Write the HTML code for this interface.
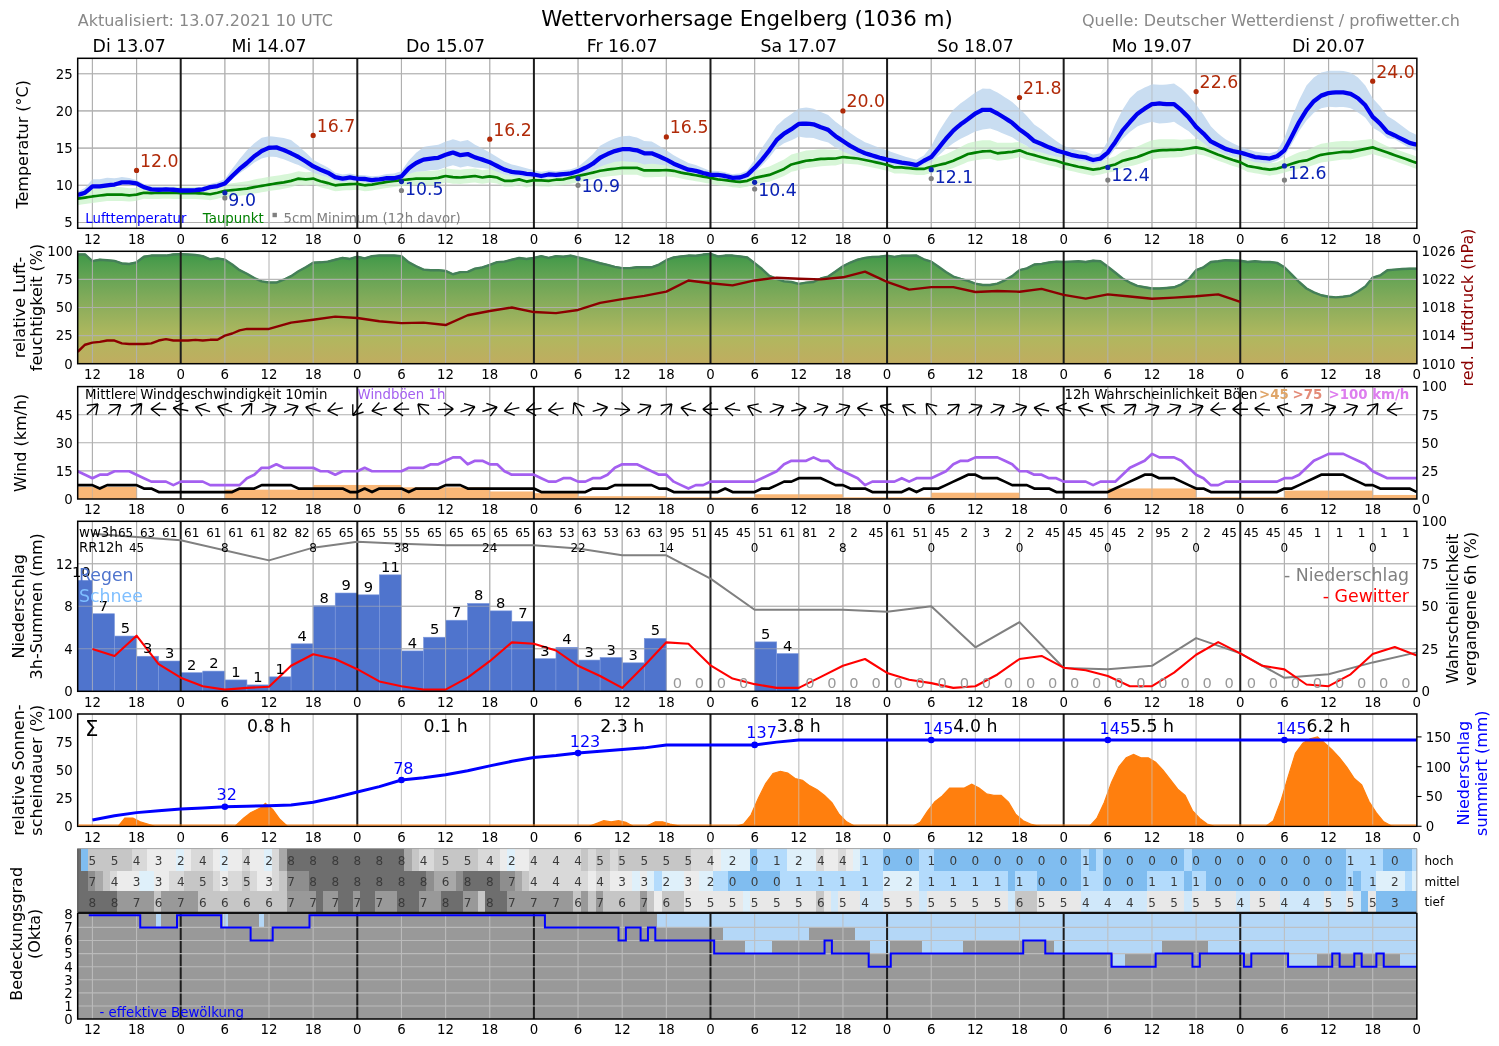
<!DOCTYPE html>
<html lang="de"><head><meta charset="utf-8"><title>Wettervorhersage Engelberg (1036 m)</title>
<style>html,body{margin:0;padding:0;background:#fff}svg{display:block}</style></head>
<body>
<svg width="1499" height="1046" viewBox="0 0 1499 1046" font-family="'DejaVu Sans','Liberation Sans',sans-serif">
<defs>
<clipPath id="c1"><rect x="77.7" y="58.3" width="1339.16" height="170"/></clipPath>
<clipPath id="c2"><rect x="77.7" y="251.3" width="1339.16" height="112.4"/></clipPath>
<clipPath id="c3"><rect x="77.7" y="386.6" width="1339.16" height="112.4"/></clipPath>
<clipPath id="c4"><rect x="77.7" y="521.3" width="1339.16" height="170"/></clipPath>
<clipPath id="c5"><rect x="77.7" y="714" width="1339.16" height="112.3"/></clipPath>
<clipPath id="c6"><rect x="77.7" y="848.6" width="1339.16" height="170.5"/></clipPath>
<linearGradient id="rhg" x1="0" y1="0" x2="0" y2="1"><stop offset="0" stop-color="#3e9848"/><stop offset="0.25" stop-color="#6aa556"/><stop offset="0.5" stop-color="#8fae5c"/><stop offset="0.75" stop-color="#b0b85e"/><stop offset="1" stop-color="#c0ac60"/></linearGradient>
</defs>
<rect width="1499" height="1046" fill="#fff"/>
<text x="77.7" y="26" font-size="16" fill="#888">Aktualisiert: 13.07.2021 10 UTC</text>
<text x="747" y="25.7" font-size="21.3" fill="#000" text-anchor="middle">Wettervorhersage Engelberg (1036 m)</text>
<text x="1460" y="26" font-size="16" fill="#888" text-anchor="end">Quelle: Deutscher Wetterdienst / profiwetter.ch</text>
<text x="129.21" y="51.7" font-size="17.33" fill="#000" text-anchor="middle">Di 13.07</text>
<text x="269.01" y="51.7" font-size="17.33" fill="#000" text-anchor="middle">Mi 14.07</text>
<text x="445.6" y="51.7" font-size="17.33" fill="#000" text-anchor="middle">Do 15.07</text>
<text x="622.19" y="51.7" font-size="17.33" fill="#000" text-anchor="middle">Fr 16.07</text>
<text x="798.78" y="51.7" font-size="17.33" fill="#000" text-anchor="middle">Sa 17.07</text>
<text x="975.38" y="51.7" font-size="17.33" fill="#000" text-anchor="middle">So 18.07</text>
<text x="1151.97" y="51.7" font-size="17.33" fill="#000" text-anchor="middle">Mo 19.07</text>
<text x="1328.56" y="51.7" font-size="17.33" fill="#000" text-anchor="middle">Di 20.07</text>
<path d="M92.42 58.3V228.3M136.56 58.3V228.3M224.86 58.3V228.3M269.01 58.3V228.3M313.16 58.3V228.3M401.45 58.3V228.3M445.6 58.3V228.3M489.75 58.3V228.3M578.04 58.3V228.3M622.19 58.3V228.3M666.34 58.3V228.3M754.64 58.3V228.3M798.78 58.3V228.3M842.93 58.3V228.3M931.23 58.3V228.3M975.38 58.3V228.3M1019.52 58.3V228.3M1107.82 58.3V228.3M1151.97 58.3V228.3M1196.12 58.3V228.3M1284.41 58.3V228.3M1328.56 58.3V228.3M1372.71 58.3V228.3M77.7 222.5H1416.86M77.7 185.3H1416.86M77.7 148.1H1416.86M77.7 110.9H1416.86M77.7 73.7H1416.86" stroke="#b0b0b0" stroke-width="1.1" fill="none" opacity="1"/>
<g clip-path="url(#c1)">
<path d="M77.7 191.11 L81.38 190.48 L85.06 189.87 L88.74 189.27 L92.42 188.69 L96.09 188.22 L99.77 187.76 L103.45 187.32 L107.13 186.9 L110.81 186.95 L114.49 187.02 L118.17 187.1 L121.85 187.2 L125.53 187.68 L129.21 188.17 L132.88 187.92 L136.56 187.69 L140.24 186.9 L143.92 186.11 L147.6 186.45 L151.28 186.79 L154.96 186.7 L158.64 186.6 L162.32 186.51 L166 186.42 L169.68 186.51 L173.35 186.6 L177.03 186.7 L180.71 186.79 L184.39 186.79 L188.07 186.79 L191.75 186.79 L195.43 186.79 L199.11 186.97 L202.79 187.16 L206.46 187.53 L210.14 187.9 L213.82 187.16 L217.5 186.42 L221.18 185.33 L224.86 184.25 L228.54 183.74 L232.22 183.22 L235.9 182.71 L239.58 182.22 L243.25 181.73 L246.93 181.25 L250.61 180.41 L254.29 179.58 L257.97 178.86 L261.65 178.15 L265.33 177.46 L269.01 176.79 L272.69 176.22 L276.37 175.67 L280.05 175.14 L283.72 174.62 L287.4 173.93 L291.08 173.26 L294.76 172.22 L298.44 171.2 L302.12 171.68 L305.8 172.17 L309.48 171.93 L313.16 171.69 L316.83 173.13 L320.51 174.58 L324.19 175.66 L327.87 176.74 L331.55 177.86 L335.23 178.98 L338.91 178.6 L342.59 178.23 L346.27 178.05 L349.95 177.86 L353.62 177.67 L357.3 177.49 L360.98 178.23 L364.66 178.98 L368.34 178.6 L372.02 178.23 L375.7 177.58 L379.38 176.93 L383.06 176.28 L386.74 175.63 L390.41 175.16 L394.09 174.7 L397.77 174.08 L401.45 173.47 L405.13 172.95 L408.81 172.43 L412.49 171.93 L416.17 171.43 L419.85 171.31 L423.53 171.2 L427.2 171.11 L430.88 171.02 L434.56 170.58 L438.24 170.16 L441.92 169.19 L445.6 168.23 L449.28 168.76 L452.96 169.3 L456.64 169.49 L460.32 169.69 L463.99 169.36 L467.67 169.04 L471.35 168.74 L475.03 168.45 L478.71 169.3 L482.39 170.17 L486.07 169.75 L489.75 169.34 L493.43 170.06 L497.11 170.79 L500.78 172.65 L504.46 174.51 L508.14 174.51 L511.82 174.51 L515.5 173.77 L519.18 173.02 L522.86 174.14 L526.54 175.26 L530.22 174.51 L533.9 173.77 L537.58 173.95 L541.25 174.14 L544.93 174.33 L548.61 174.51 L552.29 173.95 L555.97 173.4 L559.65 173.21 L563.33 173.02 L567.01 172.19 L570.69 171.35 L574.37 170.27 L578.04 169.19 L581.72 168.11 L585.4 167.04 L589.08 165.97 L592.76 164.91 L596.44 163.76 L600.12 162.64 L603.8 161.9 L607.48 161.17 L611.15 160.57 L614.83 159.98 L618.51 159.43 L622.19 158.89 L625.87 158.86 L629.55 158.85 L633.23 158.87 L636.91 158.92 L640.59 160.3 L644.27 161.71 L647.95 161.85 L651.62 162.01 L655.3 162.2 L658.98 162.42 L662.66 162.47 L666.34 162.54 L670.02 163.19 L673.7 163.85 L677.38 165.09 L681.06 166.33 L684.74 166.98 L688.41 167.63 L692.09 168.28 L695.77 168.93 L699.45 169.58 L703.13 170.23 L706.81 170.88 L710.49 171.54 L714.17 172.28 L717.85 173.02 L721.52 173.4 L725.2 173.77 L728.88 174.33 L732.56 174.88 L736.24 175.26 L739.92 175.63 L743.6 175.07 L747.28 174.51 L750.96 172.66 L754.64 170.81 L758.32 169.71 L761.99 168.61 L765.67 167.53 L769.35 166.46 L773.03 164.66 L776.71 162.89 L780.39 161.14 L784.07 159.43 L787.75 157 L791.43 154.6 L795.11 153.55 L798.78 152.53 L802.46 151.56 L806.14 150.62 L809.82 150.29 L813.5 150 L817.18 149.57 L820.86 149.17 L824.54 149.28 L828.22 149.43 L831.89 149.62 L835.57 149.83 L839.25 149.43 L842.93 149.05 L846.61 149.81 L850.29 150.59 L853.97 151.39 L857.65 152.19 L861.33 152.94 L865.01 153.68 L868.69 154.42 L872.36 155.17 L876.04 156 L879.72 156.84 L883.4 157.68 L887.08 158.52 L890.76 159.82 L894.44 161.12 L898.12 161.12 L901.8 161.12 L905.48 161.49 L909.15 161.86 L912.83 162.24 L916.51 162.61 L920.19 162.61 L923.87 162.61 L927.55 161.01 L931.23 159.41 L934.91 158.1 L938.59 156.79 L942.26 155.51 L945.94 154.24 L949.62 152.54 L953.3 150.87 L956.98 148.86 L960.66 146.89 L964.34 144.98 L968.02 143.13 L971.7 142.25 L975.38 141.43 L979.05 140.85 L982.73 140.31 L986.41 140.21 L990.09 140.15 L993.77 141.45 L997.45 142.8 L1001.13 142.7 L1004.81 142.65 L1008.49 142.63 L1012.17 142.65 L1015.85 142.33 L1019.52 142.04 L1023.2 144 L1026.88 145.98 L1030.56 147.41 L1034.24 148.84 L1037.92 149.87 L1041.6 150.89 L1045.28 151.91 L1048.96 152.94 L1052.63 153.68 L1056.31 154.42 L1059.99 155.73 L1063.67 157.03 L1067.35 157.87 L1071.03 158.7 L1074.71 159.54 L1078.39 160.38 L1082.07 161.12 L1085.75 161.86 L1089.42 162.61 L1093.1 163.35 L1096.78 162.79 L1100.46 162.24 L1104.14 160.61 L1107.82 159 L1111.5 157.58 L1115.18 156.18 L1118.86 153.87 L1122.54 151.58 L1126.21 150.26 L1129.89 148.97 L1133.57 147.72 L1137.25 146.52 L1140.93 144.89 L1144.61 143.31 L1148.29 141.79 L1151.97 140.31 L1155.65 139.73 L1159.33 139.2 L1163 139.15 L1166.68 139.16 L1170.36 139.22 L1174.04 139.32 L1177.72 139.48 L1181.4 139.67 L1185.08 139.47 L1188.76 139.31 L1192.44 139.17 L1196.12 139.07 L1199.8 140.28 L1203.47 141.51 L1207.15 143.5 L1210.83 145.5 L1214.51 146.98 L1218.19 148.47 L1221.87 149.77 L1225.55 151.08 L1229.23 152.38 L1232.91 153.68 L1236.59 154.8 L1240.26 155.91 L1243.94 157.77 L1247.62 159.63 L1251.3 160.28 L1254.98 160.93 L1258.66 161.58 L1262.34 162.24 L1266.02 162.79 L1269.7 163.35 L1273.38 162.79 L1277.05 162.24 L1280.73 160.61 L1284.41 159 L1288.09 157.21 L1291.77 155.43 L1295.45 153.87 L1299.13 152.33 L1302.81 151.37 L1306.49 150.46 L1310.16 148.65 L1313.84 146.89 L1317.52 145.36 L1321.2 143.87 L1324.88 143.18 L1328.56 142.55 L1332.24 142.06 L1335.92 141.62 L1339.6 141.23 L1343.28 140.9 L1346.95 141.08 L1350.63 141.31 L1354.31 140.84 L1357.99 140.41 L1361.67 140.03 L1365.35 139.68 L1369.03 139.36 L1372.71 139.07 L1376.39 140.84 L1380.07 142.63 L1383.74 144.43 L1387.42 146.24 L1391.1 147.54 L1394.78 148.84 L1398.46 150.15 L1402.14 151.45 L1405.82 152.75 L1409.5 154.05 L1413.18 155.35 L1416.86 156.66 L1416.86 168.93 L1413.18 167.63 L1409.5 166.33 L1405.82 165.03 L1402.14 163.72 L1398.46 162.42 L1394.78 161.12 L1391.1 159.82 L1387.42 158.52 L1383.74 157.41 L1380.07 156.3 L1376.39 155.18 L1372.71 154.06 L1369.03 154.98 L1365.35 155.89 L1361.67 156.78 L1357.99 157.67 L1354.31 158.53 L1350.63 159.38 L1346.95 159.47 L1343.28 159.54 L1339.6 160.06 L1335.92 160.55 L1332.24 161.03 L1328.56 161.48 L1324.88 162.01 L1321.2 162.52 L1317.52 163.75 L1313.84 164.96 L1310.16 166.34 L1306.49 167.71 L1302.81 168.13 L1299.13 168.54 L1295.45 169.49 L1291.77 170.43 L1288.09 171.55 L1284.41 172.67 L1280.73 173.59 L1277.05 174.51 L1273.38 175.07 L1269.7 175.63 L1266.02 175.07 L1262.34 174.51 L1258.66 173.86 L1254.98 173.21 L1251.3 172.56 L1247.62 171.91 L1243.94 170.05 L1240.26 168.19 L1236.59 167.07 L1232.91 165.96 L1229.23 164.65 L1225.55 163.35 L1221.87 162.05 L1218.19 160.75 L1214.51 159.26 L1210.83 157.77 L1207.15 156.48 L1203.47 155.18 L1199.8 154.63 L1196.12 154.06 L1192.44 154.8 L1188.76 155.52 L1185.08 156.23 L1181.4 156.92 L1177.72 157.17 L1174.04 157.4 L1170.36 157.61 L1166.68 157.8 L1163 157.98 L1159.33 158.13 L1155.65 158.7 L1151.97 159.25 L1148.29 160.61 L1144.61 161.96 L1140.93 163.28 L1137.25 164.59 L1133.57 165.41 L1129.89 166.22 L1126.21 167.01 L1122.54 167.79 L1118.86 169.49 L1115.18 171.18 L1111.5 171.92 L1107.82 172.67 L1104.14 173.59 L1100.46 174.51 L1096.78 175.07 L1093.1 175.63 L1089.42 174.88 L1085.75 174.14 L1082.07 173.4 L1078.39 172.65 L1074.71 171.81 L1071.03 170.98 L1067.35 170.14 L1063.67 169.3 L1059.99 168 L1056.31 166.7 L1052.63 165.96 L1048.96 165.21 L1045.28 164.19 L1041.6 163.17 L1037.92 162.14 L1034.24 161.12 L1030.56 160.38 L1026.88 159.65 L1023.2 158.35 L1019.52 157.04 L1015.85 157.96 L1012.17 158.87 L1008.49 159.39 L1004.81 159.9 L1001.13 160.39 L997.45 160.87 L993.77 159.84 L990.09 158.8 L986.41 159.03 L982.73 159.25 L979.05 159.82 L975.38 160.37 L971.7 161.08 L968.02 161.77 L964.34 163.38 L960.66 164.96 L956.98 166.52 L953.3 168.07 L949.62 169.23 L945.94 170.38 L942.26 171.05 L938.59 171.71 L934.91 172.37 L931.23 173.02 L927.55 173.95 L923.87 174.88 L920.19 174.88 L916.51 174.88 L912.83 174.51 L909.15 174.14 L905.48 173.77 L901.8 173.4 L898.12 173.4 L894.44 173.4 L890.76 172.09 L887.08 170.79 L883.4 169.95 L879.72 169.12 L876.04 168.28 L872.36 167.44 L868.69 166.7 L865.01 165.96 L861.33 165.21 L857.65 164.47 L853.97 164.26 L850.29 164.05 L846.61 163.84 L842.93 163.62 L839.25 164.5 L835.57 165.38 L831.89 165.59 L828.22 165.79 L824.54 165.97 L820.86 166.14 L817.18 166.77 L813.5 167.37 L809.82 167.77 L806.14 168.16 L802.46 169.09 L798.78 170 L795.11 170.9 L791.43 171.78 L787.75 173.95 L784.07 176.11 L780.39 177.51 L776.71 178.9 L773.03 180.28 L769.35 181.65 L765.67 182.26 L761.99 182.88 L758.32 183.48 L754.64 184.09 L750.96 185.44 L747.28 186.79 L743.6 187.35 L739.92 187.9 L736.24 187.53 L732.56 187.16 L728.88 186.6 L725.2 186.04 L721.52 185.67 L717.85 185.3 L714.17 184.56 L710.49 183.81 L706.81 183.16 L703.13 182.51 L699.45 181.86 L695.77 181.21 L692.09 180.56 L688.41 179.91 L684.74 179.25 L681.06 178.6 L677.38 177.79 L673.7 176.98 L670.02 176.72 L666.34 176.45 L662.66 176.74 L658.98 177.02 L655.3 177.1 L651.62 177.17 L647.95 177.24 L644.27 177.29 L640.59 176.03 L636.91 174.76 L633.23 174.78 L629.55 174.79 L625.87 174.78 L622.19 174.77 L618.51 175.21 L614.83 175.64 L611.15 176.06 L607.48 176.47 L603.8 176.96 L600.12 177.45 L596.44 178.3 L592.76 179.15 L589.08 179.9 L585.4 180.65 L581.72 181.39 L578.04 182.14 L574.37 182.88 L570.69 183.63 L567.01 184.46 L563.33 185.3 L559.65 185.49 L555.97 185.67 L552.29 186.23 L548.61 186.79 L544.93 186.6 L541.25 186.42 L537.58 186.23 L533.9 186.04 L530.22 186.79 L526.54 187.53 L522.86 186.42 L519.18 185.3 L515.5 186.04 L511.82 186.79 L508.14 186.79 L504.46 186.79 L500.78 185.19 L497.11 183.58 L493.43 183.09 L489.75 182.6 L486.07 183.21 L482.39 183.82 L478.71 183.13 L475.03 182.42 L471.35 182.83 L467.67 183.23 L463.99 183.62 L460.32 184.01 L456.64 183.83 L452.96 183.64 L449.28 183.08 L445.6 182.51 L441.92 183.43 L438.24 184.34 L434.56 184.69 L430.88 185.04 L427.2 185.01 L423.53 184.97 L419.85 184.93 L416.17 184.88 L412.49 185.21 L408.81 185.53 L405.13 185.84 L401.45 186.16 L397.77 186.57 L394.09 186.97 L390.41 187.44 L386.74 187.9 L383.06 188.56 L379.38 189.21 L375.7 189.86 L372.02 190.51 L368.34 190.88 L364.66 191.25 L360.98 190.51 L357.3 189.76 L353.62 189.95 L349.95 190.14 L346.27 190.32 L342.59 190.51 L338.91 190.88 L335.23 191.25 L331.55 190.14 L327.87 189.02 L324.19 188.15 L320.51 187.28 L316.83 186.03 L313.16 184.78 L309.48 185.21 L305.8 185.63 L302.12 185.3 L298.44 184.97 L294.76 186.12 L291.08 187.27 L287.4 188.04 L283.72 188.81 L280.05 189.38 L276.37 189.95 L272.69 190.51 L269.01 191.06 L265.33 191.7 L261.65 192.34 L257.97 192.97 L254.29 193.6 L250.61 194.31 L246.93 195.01 L243.25 195.35 L239.58 195.67 L235.9 196 L232.22 196.31 L228.54 196.63 L224.86 196.95 L221.18 197.82 L217.5 198.69 L213.82 199.44 L210.14 200.18 L206.46 199.81 L202.79 199.44 L199.11 199.25 L195.43 199.06 L191.75 199.06 L188.07 199.06 L184.39 199.06 L180.71 199.06 L177.03 198.97 L173.35 198.88 L169.68 198.78 L166 198.69 L162.32 198.78 L158.64 198.88 L154.96 198.97 L151.28 199.06 L147.6 198.94 L143.92 198.81 L140.24 199.79 L136.56 200.78 L132.88 201.2 L129.21 201.62 L125.53 201.3 L121.85 200.97 L118.17 201 L114.49 201.04 L110.81 201.06 L107.13 201.08 L103.45 201.56 L99.77 202.04 L96.09 202.5 L92.42 202.97 L88.74 203.52 L85.06 204.06 L81.38 204.6 L77.7 205.13 Z" fill="#d7f6d7"/>
<path d="M77.7 192 L81.38 189.86 L85.06 187.72 L88.74 183.53 L92.42 179.35 L96.09 179.25 L99.77 179.16 L103.45 178.51 L107.13 177.86 L110.81 178.05 L114.49 178.23 L118.17 177.67 L121.85 177.12 L125.53 177.58 L129.21 178.05 L132.88 179.07 L136.56 180.09 L140.24 182.08 L143.92 184.06 L147.6 185.3 L151.28 186.54 L154.96 186.85 L158.64 187.16 L162.32 187.04 L166 186.91 L169.68 187.16 L173.35 187.41 L177.03 187.84 L180.71 188.28 L184.39 188.21 L188.07 188.15 L191.75 187.9 L195.43 187.66 L199.11 187.22 L202.79 186.79 L206.46 185.36 L210.14 183.94 L213.82 183.07 L217.5 182.2 L221.18 180.59 L224.86 178.98 L228.54 173.89 L232.22 168.81 L235.9 163.91 L239.58 159.01 L243.25 154.67 L246.93 150.33 L250.61 146.8 L254.29 143.26 L257.97 140.47 L261.65 137.68 L265.33 136.94 L269.01 136.2 L272.69 136.57 L276.37 136.94 L280.05 137.5 L283.72 138.06 L287.4 138.99 L291.08 139.92 L294.76 142.89 L298.44 145.87 L302.12 149.22 L305.8 152.56 L309.48 156.1 L313.16 159.63 L316.83 161.68 L320.51 163.72 L324.19 165.58 L327.87 167.44 L331.55 170.05 L335.23 172.65 L338.91 173.52 L342.59 174.39 L346.27 173.95 L349.95 173.52 L353.62 174.2 L357.3 174.88 L360.98 175.07 L364.66 175.26 L368.34 175.81 L372.02 176.37 L375.7 176 L379.38 175.63 L383.06 174.82 L386.74 174.02 L390.41 173.77 L394.09 173.52 L397.77 172.34 L401.45 171.16 L405.13 165.83 L408.81 160.5 L412.49 156.66 L416.17 152.81 L419.85 149.9 L423.53 146.98 L427.2 146.33 L430.88 145.68 L434.56 145.22 L438.24 144.75 L441.92 143.17 L445.6 141.59 L449.28 140.38 L452.96 139.17 L456.64 140.29 L460.32 141.4 L463.99 140.66 L467.67 139.92 L471.35 142.33 L475.03 144.75 L478.71 146.61 L482.39 148.47 L486.07 150.52 L489.75 152.56 L493.43 154.8 L497.11 157.03 L500.78 159.26 L504.46 161.49 L508.14 162.98 L511.82 164.47 L515.5 165.34 L519.18 166.2 L522.86 167.26 L526.54 168.31 L530.22 169.18 L533.9 170.05 L537.58 170.92 L541.25 171.78 L544.93 171.16 L548.61 170.54 L552.29 170.85 L555.97 171.16 L559.65 170.67 L563.33 170.17 L567.01 169.68 L570.69 169.18 L574.37 167.94 L578.04 166.7 L581.72 163.79 L585.4 160.87 L589.08 157.59 L592.76 154.3 L596.44 150.08 L600.12 145.87 L603.8 143.82 L607.48 141.78 L611.15 140.1 L614.83 138.43 L618.51 137.31 L622.19 136.2 L625.87 136.01 L629.55 135.82 L633.23 136.63 L636.91 137.44 L640.59 139.17 L644.27 140.91 L647.95 141.16 L651.62 141.4 L655.3 143.54 L658.98 145.68 L662.66 148.01 L666.34 150.33 L670.02 152.81 L673.7 155.29 L677.38 157.21 L681.06 159.14 L684.74 161.06 L688.41 162.98 L692.09 163.97 L695.77 164.96 L699.45 166.51 L703.13 168.06 L706.81 169.43 L710.49 170.79 L714.17 170.85 L717.85 170.92 L721.52 171.54 L725.2 172.16 L728.88 173.15 L732.56 174.14 L736.24 173.77 L739.92 173.4 L743.6 171.91 L747.28 170.42 L750.96 165.03 L754.64 159.63 L758.32 153.68 L761.99 147.73 L765.67 142.52 L769.35 137.31 L773.03 131.55 L776.71 125.78 L780.39 122.39 L784.07 118.99 L787.75 116.53 L791.43 114.06 L795.11 111.23 L798.78 108.39 L802.46 107.97 L806.14 107.55 L809.82 108.11 L813.5 108.67 L817.18 110.34 L820.86 112.02 L824.54 113.5 L828.22 114.99 L831.89 118.43 L835.57 121.87 L839.25 124.57 L842.93 127.27 L846.61 130.12 L850.29 132.97 L853.97 135.45 L857.65 137.93 L861.33 140.04 L865.01 142.15 L868.69 143.57 L872.36 145 L876.04 146.43 L879.72 147.85 L883.4 149.09 L887.08 150.33 L890.76 151.63 L894.44 152.94 L898.12 154.24 L901.8 155.54 L905.48 156.66 L909.15 157.77 L912.83 158.7 L916.51 159.63 L920.19 157.59 L923.87 155.54 L927.55 150.89 L931.23 146.24 L934.91 138.99 L938.59 131.73 L942.26 125.97 L945.94 120.2 L949.62 114.99 L953.3 109.78 L956.98 106.58 L960.66 103.37 L964.34 100.72 L968.02 98.07 L971.7 95.23 L975.38 92.39 L979.05 90.49 L982.73 88.58 L986.41 88.64 L990.09 88.7 L993.77 90.63 L997.45 92.55 L1001.13 94.84 L1004.81 97.14 L1008.49 99.55 L1012.17 101.97 L1015.85 105.32 L1019.52 108.67 L1023.2 112.33 L1026.88 115.98 L1030.56 120.2 L1034.24 124.42 L1037.92 126.96 L1041.6 129.5 L1045.28 132.48 L1048.96 135.45 L1052.63 138.24 L1056.31 141.03 L1059.99 143.45 L1063.67 145.87 L1067.35 147.17 L1071.03 148.47 L1074.71 149.4 L1078.39 150.33 L1082.07 151.08 L1085.75 151.82 L1089.42 153.22 L1093.1 154.61 L1096.78 153.96 L1100.46 153.31 L1104.14 147.17 L1107.82 141.03 L1111.5 132.66 L1115.18 124.29 L1118.86 117.04 L1122.54 109.78 L1126.21 104.02 L1129.89 98.25 L1133.57 94.81 L1137.25 91.37 L1140.93 89.42 L1144.61 87.46 L1148.29 85.88 L1151.97 84.3 L1155.65 84.58 L1159.33 84.86 L1163 84.74 L1166.68 84.61 L1170.36 84.12 L1174.04 83.62 L1177.72 86.1 L1181.4 88.58 L1185.08 92.11 L1188.76 95.65 L1192.44 100.11 L1196.12 104.58 L1199.8 109.72 L1203.47 114.87 L1207.15 120.57 L1210.83 126.28 L1214.51 129.93 L1218.19 133.59 L1221.87 136.38 L1225.55 139.17 L1229.23 141.22 L1232.91 143.26 L1236.59 144.94 L1240.26 146.61 L1243.94 147.85 L1247.62 149.09 L1251.3 150.33 L1254.98 151.57 L1258.66 152.07 L1262.34 152.56 L1266.02 152.94 L1269.7 153.31 L1273.38 152.19 L1277.05 151.08 L1280.73 144.57 L1284.41 138.06 L1288.09 127.64 L1291.77 117.22 L1295.45 108.67 L1299.13 100.11 L1302.81 92.86 L1306.49 85.6 L1310.16 81.51 L1313.84 77.42 L1317.52 75 L1321.2 72.58 L1324.88 71.65 L1328.56 70.72 L1332.24 70.72 L1335.92 70.72 L1339.6 70.85 L1343.28 70.97 L1346.95 71.84 L1350.63 72.71 L1354.31 75.06 L1357.99 77.42 L1361.67 81.51 L1365.35 85.6 L1369.03 91.93 L1372.71 98.25 L1376.39 102.22 L1380.07 106.19 L1383.74 111.09 L1387.42 115.98 L1391.1 118.28 L1394.78 120.57 L1398.46 123.3 L1402.14 126.03 L1405.82 128.76 L1409.5 131.48 L1413.18 133.28 L1416.86 135.08 L1416.86 151.08 L1413.18 149.71 L1409.5 148.35 L1405.82 146.05 L1402.14 143.76 L1398.46 141.47 L1394.78 139.17 L1391.1 138.68 L1387.42 138.18 L1383.74 135.08 L1380.07 131.98 L1376.39 129.81 L1372.71 127.64 L1369.03 122.71 L1365.35 117.78 L1361.67 115.08 L1357.99 112.39 L1354.31 110.28 L1350.63 108.17 L1346.95 107.55 L1343.28 106.93 L1339.6 107.06 L1335.92 107.18 L1332.24 106.99 L1328.56 106.81 L1324.88 107.55 L1321.2 108.3 L1317.52 110.53 L1313.84 112.76 L1310.16 116.67 L1306.49 120.57 L1302.81 125.78 L1299.13 130.99 L1295.45 137.5 L1291.77 144.01 L1288.09 150.15 L1284.41 156.28 L1280.73 158.52 L1277.05 160.75 L1273.38 162.05 L1269.7 163.35 L1266.02 163.17 L1262.34 162.98 L1258.66 162.61 L1254.98 162.24 L1251.3 161.12 L1247.62 160 L1243.94 158.89 L1240.26 157.77 L1236.59 157.15 L1232.91 156.53 L1229.23 155.54 L1225.55 154.55 L1221.87 152.81 L1218.19 151.08 L1214.51 150.08 L1210.83 149.09 L1207.15 146.05 L1203.47 143.02 L1199.8 140.54 L1196.12 138.06 L1192.44 134.71 L1188.76 131.36 L1185.08 128.94 L1181.4 126.52 L1177.72 124.17 L1174.04 121.81 L1170.36 122.43 L1166.68 123.05 L1163 123.3 L1159.33 123.55 L1155.65 122.66 L1151.97 121.78 L1148.29 122.76 L1144.61 123.73 L1140.93 125.08 L1137.25 126.43 L1133.57 129.27 L1129.89 132.1 L1126.21 135.55 L1122.54 138.99 L1118.86 143.91 L1115.18 148.84 L1111.5 153.4 L1107.82 157.96 L1104.14 160.28 L1100.46 162.61 L1096.78 163.44 L1093.1 164.28 L1089.42 163.07 L1085.75 161.86 L1082.07 161.37 L1078.39 160.87 L1074.71 160.19 L1071.03 159.51 L1067.35 158.45 L1063.67 157.4 L1059.99 156.9 L1056.31 156.41 L1052.63 155.54 L1048.96 154.67 L1045.28 153.62 L1041.6 152.56 L1037.92 151.76 L1034.24 150.95 L1030.56 148.47 L1026.88 145.99 L1023.2 144.07 L1019.52 142.15 L1015.85 139.73 L1012.17 137.31 L1008.49 135.82 L1004.81 134.34 L1001.13 132.66 L997.45 130.99 L993.77 129.69 L990.09 128.38 L986.41 128.94 L982.73 129.5 L979.05 130.48 L975.38 131.45 L971.7 133.36 L968.02 135.27 L964.34 136.99 L960.66 138.71 L956.98 140.99 L953.3 143.26 L949.62 146.05 L945.94 148.84 L942.26 152.19 L938.59 155.54 L934.91 159.07 L931.23 162.61 L927.55 163.54 L923.87 164.47 L920.19 166.79 L916.51 169.12 L912.83 168.47 L909.15 167.82 L905.48 167.38 L901.8 166.95 L898.12 166.33 L894.44 165.71 L890.76 165.09 L887.08 164.47 L883.4 163.6 L879.72 162.73 L876.04 161.68 L872.36 160.62 L868.69 159.57 L865.01 158.52 L861.33 157.71 L857.65 156.9 L853.97 155.73 L850.29 154.55 L846.61 153 L842.93 151.45 L839.25 149.59 L835.57 147.73 L831.89 145.12 L828.22 142.52 L824.54 141.47 L820.86 140.41 L817.18 139.17 L813.5 137.93 L809.82 137.81 L806.14 137.68 L802.46 137.13 L798.78 136.57 L795.11 138.43 L791.43 140.29 L787.75 141.78 L784.07 143.26 L780.39 145.68 L776.71 148.1 L773.03 152.75 L769.35 157.4 L765.67 161.49 L761.99 165.58 L758.32 169.03 L754.64 172.47 L750.96 175.35 L747.28 178.23 L743.6 179.53 L739.92 180.84 L736.24 181.02 L732.56 181.21 L728.88 180.28 L725.2 179.35 L721.52 178.79 L717.85 178.23 L714.17 178.23 L710.49 178.23 L706.81 177.49 L703.13 176.74 L699.45 175.81 L695.77 174.88 L692.09 174.51 L688.41 174.14 L684.74 172.9 L681.06 171.66 L677.38 170.42 L673.7 169.18 L670.02 167.38 L666.34 165.58 L662.66 165.03 L658.98 164.47 L655.3 164.1 L651.62 163.72 L647.95 164.1 L644.27 164.47 L640.59 163.35 L636.91 162.24 L633.23 162.05 L629.55 161.86 L625.87 161.4 L622.19 160.93 L618.51 161.4 L614.83 161.86 L611.15 162.89 L607.48 163.91 L603.8 165.31 L600.12 166.7 L596.44 168.75 L592.76 170.79 L589.08 171.91 L585.4 173.02 L581.72 173.77 L578.04 174.51 L574.37 175.63 L570.69 176.74 L567.01 177.12 L563.33 177.49 L559.65 177.86 L555.97 178.23 L552.29 178.05 L548.61 177.86 L544.93 178.6 L541.25 179.35 L537.58 178.6 L533.9 177.86 L530.22 177.61 L526.54 177.36 L522.86 176.93 L519.18 176.5 L515.5 176.25 L511.82 176 L508.14 175.32 L504.46 174.64 L500.78 173.21 L497.11 171.78 L493.43 170.36 L489.75 168.93 L486.07 168.5 L482.39 168.06 L478.71 167.82 L475.03 167.57 L471.35 166.76 L467.67 165.96 L463.99 166.7 L460.32 167.44 L456.64 166.33 L452.96 165.21 L449.28 166.19 L445.6 167.16 L441.92 168.51 L438.24 169.86 L434.56 170.09 L430.88 170.33 L427.2 170.75 L423.53 171.16 L419.85 171.41 L416.17 171.66 L412.49 172.84 L408.81 174.02 L405.13 176.68 L401.45 179.35 L397.77 180.34 L394.09 181.33 L390.41 181.39 L386.74 181.46 L383.06 182.08 L379.38 182.7 L375.7 183.07 L372.02 183.44 L368.34 182.88 L364.66 182.32 L360.98 182.14 L357.3 181.95 L353.62 181.46 L349.95 180.96 L346.27 181.58 L342.59 182.2 L338.91 181.52 L335.23 180.84 L331.55 179.04 L327.87 177.24 L324.19 176.19 L320.51 175.13 L316.83 173.89 L313.16 172.65 L309.48 170.67 L305.8 168.68 L302.12 166.89 L298.44 165.09 L294.76 163.66 L291.08 162.24 L287.4 160.75 L283.72 159.26 L280.05 158.14 L276.37 157.03 L272.69 156.84 L269.01 156.66 L265.33 157.59 L261.65 158.52 L257.97 160.56 L254.29 162.61 L250.61 165.4 L246.93 168.19 L243.25 170.73 L239.58 173.27 L235.9 176.37 L232.22 179.47 L228.54 182.76 L224.86 186.04 L221.18 187.28 L217.5 188.52 L213.82 189.02 L210.14 189.52 L206.46 190.57 L202.79 191.62 L199.11 192 L195.43 192.37 L191.75 192.55 L188.07 192.74 L184.39 192.74 L180.71 192.74 L177.03 192.37 L173.35 192 L169.68 191.81 L166 191.62 L162.32 191.81 L158.64 192 L154.96 191.81 L151.28 191.62 L147.6 190.51 L143.92 189.39 L140.24 187.53 L136.56 185.67 L132.88 185.11 L129.21 184.56 L125.53 184.56 L121.85 184.56 L118.17 185.67 L114.49 186.79 L110.81 187.16 L107.13 187.53 L103.45 188.09 L99.77 188.65 L96.09 188.65 L92.42 188.65 L88.74 191.81 L85.06 194.97 L81.38 196.09 L77.7 197.2 Z" fill="#c9ddf1"/>
</g>
<path d="M92.42 58.3V228.3M136.56 58.3V228.3M224.86 58.3V228.3M269.01 58.3V228.3M313.16 58.3V228.3M401.45 58.3V228.3M445.6 58.3V228.3M489.75 58.3V228.3M578.04 58.3V228.3M622.19 58.3V228.3M666.34 58.3V228.3M754.64 58.3V228.3M798.78 58.3V228.3M842.93 58.3V228.3M931.23 58.3V228.3M975.38 58.3V228.3M1019.52 58.3V228.3M1107.82 58.3V228.3M1151.97 58.3V228.3M1196.12 58.3V228.3M1284.41 58.3V228.3M1328.56 58.3V228.3M1372.71 58.3V228.3M77.7 222.5H1416.86M77.7 185.3H1416.86M77.7 148.1H1416.86M77.7 110.9H1416.86M77.7 73.7H1416.86" stroke="#b0b0b0" stroke-width="1.1" fill="none" opacity="0.55"/>
<path d="M180.71 58.3V228.3M357.3 58.3V228.3M533.9 58.3V228.3M710.49 58.3V228.3M887.08 58.3V228.3M1063.67 58.3V228.3M1240.26 58.3V228.3" stroke="#1c1c1c" stroke-width="2" fill="none"/>
<g clip-path="url(#c1)">
<path d="M77.7 198.69 L81.38 198.13 L85.06 197.58 L88.74 197.02 L92.42 196.46 L96.09 196 L99.77 195.53 L103.45 195.06 L107.13 194.6 L110.81 194.6 L114.49 194.6 L118.17 194.6 L121.85 194.6 L125.53 194.97 L129.21 195.34 L132.88 194.97 L136.56 194.6 L140.24 193.67 L143.92 192.74 L147.6 192.93 L151.28 193.11 L154.96 193.02 L158.64 192.93 L162.32 192.83 L166 192.74 L169.68 192.83 L173.35 192.93 L177.03 193.02 L180.71 193.11 L184.39 193.11 L188.07 193.11 L191.75 193.11 L195.43 193.11 L199.11 193.3 L202.79 193.48 L206.46 193.86 L210.14 194.23 L213.82 193.48 L217.5 192.74 L221.18 191.81 L224.86 190.88 L228.54 190.51 L232.22 190.14 L235.9 189.76 L239.58 189.39 L243.25 189.02 L246.93 188.65 L250.61 187.9 L254.29 187.16 L257.97 186.51 L261.65 185.86 L265.33 185.21 L269.01 184.56 L272.69 184 L276.37 183.44 L280.05 182.88 L283.72 182.32 L287.4 181.58 L291.08 180.84 L294.76 179.72 L298.44 178.6 L302.12 178.98 L305.8 179.35 L309.48 178.98 L313.16 178.6 L316.83 179.91 L320.51 181.21 L324.19 182.14 L327.87 183.07 L331.55 184.18 L335.23 185.3 L338.91 184.93 L342.59 184.56 L346.27 184.37 L349.95 184.18 L353.62 184 L357.3 183.81 L360.98 184.56 L364.66 185.3 L368.34 184.93 L372.02 184.56 L375.7 183.91 L379.38 183.25 L383.06 182.6 L386.74 181.95 L390.41 181.49 L394.09 181.02 L397.77 180.56 L401.45 180.09 L405.13 179.72 L408.81 179.35 L412.49 178.98 L416.17 178.6 L419.85 178.6 L423.53 178.6 L427.2 178.6 L430.88 178.6 L434.56 178.23 L438.24 177.86 L441.92 176.93 L445.6 176 L449.28 176.56 L452.96 177.12 L456.64 177.3 L460.32 177.49 L463.99 177.12 L467.67 176.74 L471.35 176.37 L475.03 176 L478.71 176.74 L482.39 177.49 L486.07 176.93 L489.75 176.37 L493.43 176.93 L497.11 177.49 L500.78 179.16 L504.46 180.84 L508.14 180.84 L511.82 180.84 L515.5 180.09 L519.18 179.35 L522.86 180.46 L526.54 181.58 L530.22 180.84 L533.9 180.09 L537.58 180.28 L541.25 180.46 L544.93 180.65 L548.61 180.84 L552.29 180.28 L555.97 179.72 L559.65 179.53 L563.33 179.35 L567.01 178.51 L570.69 177.67 L574.37 176.84 L578.04 176 L581.72 175.16 L585.4 174.33 L589.08 173.49 L592.76 172.65 L596.44 171.72 L600.12 170.79 L603.8 170.23 L607.48 169.68 L611.15 169.21 L614.83 168.75 L618.51 168.28 L622.19 167.82 L625.87 167.82 L629.55 167.82 L633.23 167.82 L636.91 167.82 L640.59 169.12 L644.27 170.42 L647.95 170.42 L651.62 170.42 L655.3 170.42 L658.98 170.42 L662.66 170.23 L666.34 170.05 L670.02 170.42 L673.7 170.79 L677.38 171.72 L681.06 172.65 L684.74 173.3 L688.41 173.95 L692.09 174.6 L695.77 175.26 L699.45 175.91 L703.13 176.56 L706.81 177.21 L710.49 177.86 L714.17 178.6 L717.85 179.35 L721.52 179.72 L725.2 180.09 L728.88 180.65 L732.56 181.21 L736.24 181.58 L739.92 181.95 L743.6 181.39 L747.28 180.84 L750.96 179.35 L754.64 177.86 L758.32 177.12 L761.99 176.37 L765.67 175.63 L769.35 174.88 L773.03 173.4 L776.71 171.91 L780.39 170.42 L784.07 168.93 L787.75 166.7 L791.43 164.47 L795.11 163.54 L798.78 162.61 L802.46 161.68 L806.14 160.75 L809.82 160.38 L813.5 160 L817.18 159.45 L820.86 158.89 L824.54 158.79 L828.22 158.7 L831.89 158.61 L835.57 158.52 L839.25 157.77 L842.93 157.03 L846.61 157.4 L850.29 157.77 L853.97 158.14 L857.65 158.52 L861.33 159.26 L865.01 160 L868.69 160.75 L872.36 161.49 L876.04 162.33 L879.72 163.17 L883.4 164 L887.08 164.84 L890.76 166.14 L894.44 167.44 L898.12 167.44 L901.8 167.44 L905.48 167.82 L909.15 168.19 L912.83 168.56 L916.51 168.93 L920.19 168.93 L923.87 168.93 L927.55 167.82 L931.23 166.7 L934.91 165.86 L938.59 165.03 L942.26 164.19 L945.94 163.35 L949.62 162.05 L953.3 160.75 L956.98 159.07 L960.66 157.4 L964.34 155.73 L968.02 154.05 L971.7 153.31 L975.38 152.56 L979.05 152.01 L982.73 151.45 L986.41 151.26 L990.09 151.08 L993.77 152.19 L997.45 153.31 L1001.13 152.94 L1004.81 152.56 L1008.49 152.19 L1012.17 151.82 L1015.85 151.08 L1019.52 150.33 L1023.2 151.82 L1026.88 153.31 L1030.56 154.24 L1034.24 155.17 L1037.92 156.19 L1041.6 157.21 L1045.28 158.24 L1048.96 159.26 L1052.63 160 L1056.31 160.75 L1059.99 162.05 L1063.67 163.35 L1067.35 164.19 L1071.03 165.03 L1074.71 165.86 L1078.39 166.7 L1082.07 167.44 L1085.75 168.19 L1089.42 168.93 L1093.1 169.68 L1096.78 169.12 L1100.46 168.56 L1104.14 167.44 L1107.82 166.33 L1111.5 165.4 L1115.18 164.47 L1118.86 162.61 L1122.54 160.75 L1126.21 159.82 L1129.89 158.89 L1133.57 157.96 L1137.25 157.03 L1140.93 155.63 L1144.61 154.24 L1148.29 152.84 L1151.97 151.45 L1155.65 150.89 L1159.33 150.33 L1163 150.21 L1166.68 150.08 L1170.36 149.96 L1174.04 149.84 L1177.72 149.71 L1181.4 149.59 L1185.08 149.03 L1188.76 148.47 L1192.44 147.91 L1196.12 147.36 L1199.8 148.1 L1203.47 148.84 L1207.15 150.33 L1210.83 151.82 L1214.51 153.31 L1218.19 154.8 L1221.87 156.1 L1225.55 157.4 L1229.23 158.7 L1232.91 160 L1236.59 161.12 L1240.26 162.24 L1243.94 164.1 L1247.62 165.96 L1251.3 166.61 L1254.98 167.26 L1258.66 167.91 L1262.34 168.56 L1266.02 169.12 L1269.7 169.68 L1273.38 169.12 L1277.05 168.56 L1280.73 167.44 L1284.41 166.33 L1288.09 165.03 L1291.77 163.72 L1295.45 162.61 L1299.13 161.49 L1302.81 160.93 L1306.49 160.38 L1310.16 158.89 L1313.84 157.4 L1317.52 156.1 L1321.2 154.8 L1324.88 154.24 L1328.56 153.68 L1332.24 153.22 L1335.92 152.75 L1339.6 152.28 L1343.28 151.82 L1346.95 151.82 L1350.63 151.82 L1354.31 151.08 L1357.99 150.33 L1361.67 149.59 L1365.35 148.84 L1369.03 148.1 L1372.71 147.36 L1376.39 148.66 L1380.07 149.96 L1383.74 151.26 L1387.42 152.56 L1391.1 153.87 L1394.78 155.17 L1398.46 156.47 L1402.14 157.77 L1405.82 159.07 L1409.5 160.38 L1413.18 161.68 L1416.86 162.98" fill="none" stroke="#008000" stroke-width="2.7" stroke-linejoin="round"/>
<path d="M77.7 194.97 L81.38 193.86 L85.06 192.74 L88.74 189.58 L92.42 186.42 L96.09 186.42 L99.77 186.42 L103.45 185.86 L107.13 185.3 L110.81 184.93 L114.49 184.56 L118.17 183.44 L121.85 182.32 L125.53 182.32 L129.21 182.32 L132.88 182.88 L136.56 183.44 L140.24 185.3 L143.92 187.16 L147.6 188.28 L151.28 189.39 L154.96 189.58 L158.64 189.76 L162.32 189.58 L166 189.39 L169.68 189.58 L173.35 189.76 L177.03 190.14 L180.71 190.51 L184.39 190.51 L188.07 190.51 L191.75 190.32 L195.43 190.14 L199.11 189.76 L202.79 189.39 L206.46 188.28 L210.14 187.16 L213.82 186.6 L217.5 186.04 L221.18 184.74 L224.86 183.44 L228.54 179.72 L232.22 176 L235.9 172.47 L239.58 168.93 L243.25 165.96 L246.93 162.98 L250.61 159.63 L254.29 156.28 L257.97 153.68 L261.65 151.08 L265.33 149.4 L269.01 147.73 L272.69 147.54 L276.37 147.36 L280.05 148.66 L283.72 149.96 L287.4 151.63 L291.08 153.31 L294.76 155.17 L298.44 157.03 L302.12 159.26 L305.8 161.49 L309.48 163.91 L313.16 166.33 L316.83 168 L320.51 169.68 L324.19 171.16 L327.87 172.65 L331.55 174.88 L335.23 177.12 L338.91 177.86 L342.59 178.6 L346.27 178.05 L349.95 177.49 L353.62 178.05 L357.3 178.6 L360.98 178.79 L364.66 178.98 L368.34 179.53 L372.02 180.09 L375.7 179.72 L379.38 179.35 L383.06 178.79 L386.74 178.23 L390.41 178.23 L394.09 178.23 L397.77 177.3 L401.45 176.37 L405.13 172.28 L408.81 168.19 L412.49 165.58 L416.17 162.98 L419.85 161.31 L423.53 159.63 L427.2 159.07 L430.88 158.52 L434.56 158.14 L438.24 157.77 L441.92 156.28 L445.6 154.8 L449.28 153.68 L452.96 152.56 L456.64 153.87 L460.32 155.17 L463.99 154.61 L467.67 154.05 L471.35 155.73 L475.03 157.4 L478.71 158.52 L482.39 159.63 L486.07 160.93 L489.75 162.24 L493.43 164.1 L497.11 165.96 L500.78 167.82 L504.46 169.68 L508.14 170.79 L511.82 171.91 L515.5 172.28 L519.18 172.65 L522.86 173.21 L526.54 173.77 L530.22 174.14 L533.9 174.51 L537.58 175.26 L541.25 176 L544.93 175.26 L548.61 174.51 L552.29 174.7 L555.97 174.88 L559.65 174.51 L563.33 174.14 L567.01 173.77 L570.69 173.4 L574.37 172.28 L578.04 171.16 L581.72 169.49 L585.4 167.82 L589.08 165.77 L592.76 163.72 L596.44 160.75 L600.12 157.77 L603.8 155.91 L607.48 154.05 L611.15 152.56 L614.83 151.08 L618.51 150.15 L622.19 149.22 L625.87 149.22 L629.55 149.22 L633.23 149.77 L636.91 150.33 L640.59 151.82 L644.27 153.31 L647.95 153.31 L651.62 153.31 L655.3 154.8 L658.98 156.28 L662.66 157.96 L666.34 159.63 L670.02 161.68 L673.7 163.72 L677.38 165.21 L681.06 166.7 L684.74 168.19 L688.41 169.68 L692.09 170.23 L695.77 170.79 L699.45 171.91 L703.13 173.02 L706.81 173.95 L710.49 174.88 L714.17 174.88 L717.85 174.88 L721.52 175.44 L725.2 176 L728.88 176.93 L732.56 177.86 L736.24 177.67 L739.92 177.49 L743.6 176.19 L747.28 174.88 L750.96 171.35 L754.64 167.82 L758.32 163.72 L761.99 159.63 L765.67 154.98 L769.35 150.33 L773.03 145.12 L776.71 139.92 L780.39 136.75 L784.07 133.59 L787.75 131.36 L791.43 129.13 L795.11 126.52 L798.78 123.92 L802.46 123.73 L806.14 123.55 L809.82 123.92 L813.5 124.29 L817.18 125.78 L820.86 127.27 L824.54 128.57 L828.22 129.87 L831.89 133.03 L835.57 136.2 L839.25 138.61 L842.93 141.03 L846.61 143.45 L850.29 145.87 L853.97 147.91 L857.65 149.96 L861.33 151.63 L865.01 153.31 L868.69 154.42 L872.36 155.54 L876.04 156.66 L879.72 157.77 L883.4 158.7 L887.08 159.63 L890.76 160.38 L894.44 161.12 L898.12 161.86 L901.8 162.61 L905.48 163.17 L909.15 163.72 L912.83 164.47 L916.51 165.21 L920.19 162.98 L923.87 160.75 L927.55 158.89 L931.23 157.03 L934.91 152.56 L938.59 148.1 L942.26 143.45 L945.94 138.8 L949.62 134.71 L953.3 130.62 L956.98 127.45 L960.66 124.29 L964.34 121.69 L968.02 119.08 L971.7 116.29 L975.38 113.5 L979.05 111.64 L982.73 109.78 L986.41 109.78 L990.09 109.78 L993.77 111.64 L997.45 113.5 L1001.13 115.74 L1004.81 117.97 L1008.49 120.39 L1012.17 122.8 L1015.85 126.15 L1019.52 129.5 L1023.2 132.1 L1026.88 134.71 L1030.56 137.87 L1034.24 141.03 L1037.92 142.52 L1041.6 144.01 L1045.28 145.68 L1048.96 147.36 L1052.63 148.84 L1056.31 150.33 L1059.99 151.45 L1063.67 152.56 L1067.35 153.68 L1071.03 154.8 L1074.71 155.54 L1078.39 156.28 L1082.07 156.84 L1085.75 157.4 L1089.42 158.7 L1093.1 160 L1096.78 159.26 L1100.46 158.52 L1104.14 155.54 L1107.82 152.56 L1111.5 147.36 L1115.18 142.15 L1118.86 136.38 L1122.54 130.62 L1126.21 126.34 L1129.89 122.06 L1133.57 117.97 L1137.25 113.88 L1140.93 111.27 L1144.61 108.67 L1148.29 106.44 L1151.97 104.2 L1155.65 103.83 L1159.33 103.46 L1163 103.83 L1166.68 104.2 L1170.36 104.2 L1174.04 104.2 L1177.72 107.18 L1181.4 110.16 L1185.08 113.88 L1188.76 117.6 L1192.44 122.25 L1196.12 126.9 L1199.8 130.24 L1203.47 133.59 L1207.15 137.5 L1210.83 141.4 L1214.51 143.26 L1218.19 145.12 L1221.87 146.98 L1225.55 148.84 L1229.23 149.96 L1232.91 151.08 L1236.59 151.82 L1240.26 152.56 L1243.94 153.68 L1247.62 154.8 L1251.3 155.91 L1254.98 157.03 L1258.66 157.4 L1262.34 157.77 L1266.02 158.14 L1269.7 158.52 L1273.38 157.4 L1277.05 156.28 L1280.73 153.31 L1284.41 150.33 L1288.09 143.45 L1291.77 136.57 L1295.45 129.31 L1299.13 122.06 L1302.81 116.11 L1306.49 110.16 L1310.16 105.69 L1313.84 101.23 L1317.52 98.44 L1321.2 95.65 L1324.88 94.35 L1328.56 93.04 L1332.24 92.67 L1335.92 92.3 L1339.6 92.3 L1343.28 92.3 L1346.95 93.04 L1350.63 93.79 L1354.31 96.02 L1357.99 98.25 L1361.67 101.79 L1365.35 105.32 L1369.03 111.09 L1372.71 116.85 L1376.39 120.2 L1380.07 123.55 L1383.74 127.83 L1387.42 132.1 L1391.1 133.78 L1394.78 135.45 L1398.46 137.31 L1402.14 139.17 L1405.82 141.03 L1409.5 142.89 L1413.18 143.82 L1416.86 144.75" fill="none" stroke="#0000f0" stroke-width="4.3" stroke-linejoin="round"/>
<circle cx="136.56" cy="170.42" r="2.6" fill="#b02a08"/>
<text x="140.06" y="166.92" font-size="17.33" fill="#b02a08">12.0</text>
<circle cx="313.16" cy="135.45" r="2.6" fill="#b02a08"/>
<text x="316.66" y="131.95" font-size="17.33" fill="#b02a08">16.7</text>
<circle cx="489.75" cy="139.17" r="2.6" fill="#b02a08"/>
<text x="493.25" y="135.67" font-size="17.33" fill="#b02a08">16.2</text>
<circle cx="666.34" cy="136.94" r="2.6" fill="#b02a08"/>
<text x="669.84" y="133.44" font-size="17.33" fill="#b02a08">16.5</text>
<circle cx="842.93" cy="110.9" r="2.6" fill="#b02a08"/>
<text x="846.43" y="107.4" font-size="17.33" fill="#b02a08">20.0</text>
<circle cx="1019.52" cy="97.51" r="2.6" fill="#b02a08"/>
<text x="1023.02" y="94.01" font-size="17.33" fill="#b02a08">21.8</text>
<circle cx="1196.12" cy="91.56" r="2.6" fill="#b02a08"/>
<text x="1199.62" y="88.06" font-size="17.33" fill="#b02a08">22.6</text>
<circle cx="1372.71" cy="81.14" r="2.6" fill="#b02a08"/>
<text x="1376.21" y="77.64" font-size="17.33" fill="#b02a08">24.0</text>
<circle cx="224.86" cy="197.95" r="2.6" fill="#808080"/>
<circle cx="224.86" cy="192.74" r="2.6" fill="#0a22b4"/>
<text x="228.36" y="206.24" font-size="17.33" fill="#0a22b4">9.0</text>
<circle cx="401.45" cy="190.51" r="2.6" fill="#808080"/>
<circle cx="401.45" cy="181.58" r="2.6" fill="#0a22b4"/>
<text x="404.95" y="195.08" font-size="17.33" fill="#0a22b4">10.5</text>
<circle cx="578.04" cy="185.3" r="2.6" fill="#808080"/>
<circle cx="578.04" cy="178.6" r="2.6" fill="#0a22b4"/>
<text x="581.54" y="192.1" font-size="17.33" fill="#0a22b4">10.9</text>
<circle cx="754.64" cy="189.02" r="2.6" fill="#808080"/>
<circle cx="754.64" cy="182.32" r="2.6" fill="#0a22b4"/>
<text x="758.14" y="195.82" font-size="17.33" fill="#0a22b4">10.4</text>
<circle cx="931.23" cy="178.6" r="2.6" fill="#808080"/>
<circle cx="931.23" cy="169.68" r="2.6" fill="#0a22b4"/>
<text x="934.73" y="183.18" font-size="17.33" fill="#0a22b4">12.1</text>
<circle cx="1107.82" cy="180.09" r="2.6" fill="#808080"/>
<circle cx="1107.82" cy="167.44" r="2.6" fill="#0a22b4"/>
<text x="1111.32" y="180.94" font-size="17.33" fill="#0a22b4">12.4</text>
<circle cx="1284.41" cy="180.09" r="2.6" fill="#808080"/>
<circle cx="1284.41" cy="165.96" r="2.6" fill="#0a22b4"/>
<text x="1287.91" y="179.46" font-size="17.33" fill="#0a22b4">12.6</text>
</g>
<text x="85.3" y="223" font-size="13.33" fill="#0000ff">Lufttemperatur</text>
<text x="202.8" y="223" font-size="13.33" fill="#008000">Taupunkt</text>
<rect x="272.5" y="212.8" width="4.4" height="4.4" fill="#808080"/>
<text x="283.5" y="223" font-size="13.33" fill="#808080">5cm Minimum (12h davor)</text>
<rect x="77.7" y="58.3" width="1339.16" height="170" fill="none" stroke="#000" stroke-width="1.5"/>
<text x="92.42" y="243.6" font-size="13.33" fill="#000" text-anchor="middle">12</text>
<text x="136.56" y="243.6" font-size="13.33" fill="#000" text-anchor="middle">18</text>
<text x="180.71" y="243.6" font-size="13.33" fill="#000" text-anchor="middle">0</text>
<text x="224.86" y="243.6" font-size="13.33" fill="#000" text-anchor="middle">6</text>
<text x="269.01" y="243.6" font-size="13.33" fill="#000" text-anchor="middle">12</text>
<text x="313.16" y="243.6" font-size="13.33" fill="#000" text-anchor="middle">18</text>
<text x="357.3" y="243.6" font-size="13.33" fill="#000" text-anchor="middle">0</text>
<text x="401.45" y="243.6" font-size="13.33" fill="#000" text-anchor="middle">6</text>
<text x="445.6" y="243.6" font-size="13.33" fill="#000" text-anchor="middle">12</text>
<text x="489.75" y="243.6" font-size="13.33" fill="#000" text-anchor="middle">18</text>
<text x="533.9" y="243.6" font-size="13.33" fill="#000" text-anchor="middle">0</text>
<text x="578.04" y="243.6" font-size="13.33" fill="#000" text-anchor="middle">6</text>
<text x="622.19" y="243.6" font-size="13.33" fill="#000" text-anchor="middle">12</text>
<text x="666.34" y="243.6" font-size="13.33" fill="#000" text-anchor="middle">18</text>
<text x="710.49" y="243.6" font-size="13.33" fill="#000" text-anchor="middle">0</text>
<text x="754.64" y="243.6" font-size="13.33" fill="#000" text-anchor="middle">6</text>
<text x="798.78" y="243.6" font-size="13.33" fill="#000" text-anchor="middle">12</text>
<text x="842.93" y="243.6" font-size="13.33" fill="#000" text-anchor="middle">18</text>
<text x="887.08" y="243.6" font-size="13.33" fill="#000" text-anchor="middle">0</text>
<text x="931.23" y="243.6" font-size="13.33" fill="#000" text-anchor="middle">6</text>
<text x="975.38" y="243.6" font-size="13.33" fill="#000" text-anchor="middle">12</text>
<text x="1019.52" y="243.6" font-size="13.33" fill="#000" text-anchor="middle">18</text>
<text x="1063.67" y="243.6" font-size="13.33" fill="#000" text-anchor="middle">0</text>
<text x="1107.82" y="243.6" font-size="13.33" fill="#000" text-anchor="middle">6</text>
<text x="1151.97" y="243.6" font-size="13.33" fill="#000" text-anchor="middle">12</text>
<text x="1196.12" y="243.6" font-size="13.33" fill="#000" text-anchor="middle">18</text>
<text x="1240.26" y="243.6" font-size="13.33" fill="#000" text-anchor="middle">0</text>
<text x="1284.41" y="243.6" font-size="13.33" fill="#000" text-anchor="middle">6</text>
<text x="1328.56" y="243.6" font-size="13.33" fill="#000" text-anchor="middle">12</text>
<text x="1372.71" y="243.6" font-size="13.33" fill="#000" text-anchor="middle">18</text>
<text x="1416.86" y="243.6" font-size="13.33" fill="#000" text-anchor="middle">0</text>
<text x="72.7" y="227.35" font-size="13.33" fill="#000" text-anchor="end">5</text>
<text x="72.7" y="190.15" font-size="13.33" fill="#000" text-anchor="end">10</text>
<text x="72.7" y="152.95" font-size="13.33" fill="#000" text-anchor="end">15</text>
<text x="72.7" y="115.75" font-size="13.33" fill="#000" text-anchor="end">20</text>
<text x="72.7" y="78.55" font-size="13.33" fill="#000" text-anchor="end">25</text>
<text x="27.6" y="144.3" font-size="16" fill="#000" text-anchor="middle" transform="rotate(-90 27.6 144.3)">Temperatur (°C)</text>
<g clip-path="url(#c2)">
<path d="M77.7 253.55 L85.06 253.55 L92.42 260.29 L99.77 258.83 L107.13 259.39 L114.49 259.95 L121.85 262.54 L129.21 263.1 L136.56 261.42 L143.92 255.8 L151.28 254.67 L158.64 254.67 L166 254.67 L173.35 253.55 L180.71 253.21 L188.07 253.66 L195.43 254.11 L202.79 255.23 L210.14 258.38 L217.5 257.48 L224.86 258.83 L232.22 263.66 L239.58 269.28 L246.93 272.88 L254.29 277.15 L261.65 280.52 L269.01 281.65 L276.37 281.65 L283.72 278.84 L291.08 275.24 L298.44 270.41 L305.8 266.36 L313.16 261.87 L320.51 261.42 L327.87 260.74 L335.23 258.83 L342.59 256.92 L349.95 258.04 L357.3 255.8 L364.66 257.59 L372.02 255.23 L379.38 254.67 L386.74 254.67 L394.09 254.67 L401.45 255.23 L408.81 261.42 L416.17 265.35 L423.53 268.72 L430.88 269.28 L438.24 269.28 L445.6 270.07 L452.96 273.33 L460.32 271.19 L467.67 270.97 L475.03 267.71 L482.39 266.59 L489.75 264 L497.11 261.19 L504.46 260.74 L511.82 258.83 L519.18 257.14 L526.54 258.04 L533.9 256.92 L541.25 255.23 L548.61 256.92 L555.97 255.23 L563.33 255.8 L570.69 254.67 L578.04 256.47 L585.4 258.38 L592.76 260.29 L600.12 262.32 L607.48 264 L614.83 265.91 L622.19 267.26 L629.55 267.26 L636.91 266.36 L644.27 266.36 L651.62 266.36 L658.98 263.66 L666.34 259.28 L673.7 256.47 L681.06 255.57 L688.41 254.67 L695.77 254.9 L703.13 253.66 L710.49 252.99 L717.85 255.57 L725.2 254.67 L732.56 254.67 L739.92 255.57 L747.28 256.47 L754.64 262.32 L761.99 268.16 L769.35 274.9 L776.71 278.05 L784.07 280.52 L791.43 281.09 L798.78 283 L806.14 281.76 L813.5 281.09 L820.86 277.6 L828.22 275.69 L835.57 270.52 L842.93 265.35 L850.29 261.64 L857.65 258.83 L865.01 256.92 L872.36 256.02 L879.72 255.8 L887.08 254.78 L894.44 256.02 L901.8 254.78 L909.15 254.78 L916.51 254.67 L923.87 258.38 L931.23 260.74 L938.59 265.91 L945.94 271.19 L953.3 275.69 L960.66 278.05 L968.02 279.96 L975.38 282.77 L982.73 284.12 L990.09 284.12 L997.45 282.77 L1004.81 279.4 L1012.17 275.24 L1019.52 269.28 L1026.88 267.49 L1034.24 263.66 L1041.6 262.99 L1048.96 261.64 L1056.31 260.74 L1063.67 261.08 L1071.03 260.74 L1078.39 260.4 L1085.75 261.08 L1093.1 259.84 L1100.46 260.4 L1107.82 265.8 L1115.18 271.64 L1122.54 277.6 L1129.89 281.65 L1137.25 285.02 L1144.61 286.37 L1151.97 287.61 L1159.33 287.61 L1166.68 287.04 L1174.04 286.37 L1181.4 283.45 L1188.76 278.28 L1196.12 269.28 L1203.47 266.36 L1210.83 261.08 L1218.19 260.4 L1225.55 259.28 L1232.91 259.62 L1240.26 259.84 L1247.62 261.08 L1254.98 260.4 L1262.34 261.08 L1269.7 261.08 L1277.05 261.98 L1284.41 266.36 L1291.77 273.78 L1299.13 281.09 L1306.49 287.61 L1313.84 291.43 L1321.2 294.35 L1328.56 295.81 L1335.92 296.48 L1343.28 295.81 L1350.63 294.69 L1357.99 290.64 L1365.35 285.58 L1372.71 276.7 L1380.07 274.57 L1387.42 269.28 L1394.78 268.72 L1402.14 268.16 L1409.5 267.82 L1416.86 267.82 L1416.86 363.7 L77.7 363.7 Z" fill="url(#rhg)"/>
<path d="M77.7 254.45 L85.06 254.45 L92.42 261.19 L99.77 259.73 L107.13 260.29 L114.49 260.85 L121.85 263.44 L129.21 264 L136.56 262.32 L143.92 256.7 L151.28 255.57 L158.64 255.57 L166 255.57 L173.35 254.45 L180.71 254.11 L188.07 254.56 L195.43 255.01 L202.79 256.13 L210.14 259.28 L217.5 258.38 L224.86 259.73 L232.22 264.56 L239.58 270.18 L246.93 273.78 L254.29 278.05 L261.65 281.42 L269.01 282.55 L276.37 282.55 L283.72 279.74 L291.08 276.14 L298.44 271.31 L305.8 267.26 L313.16 262.77 L320.51 262.32 L327.87 261.64 L335.23 259.73 L342.59 257.82 L349.95 258.94 L357.3 256.7 L364.66 258.49 L372.02 256.13 L379.38 255.57 L386.74 255.57 L394.09 255.57 L401.45 256.13 L408.81 262.32 L416.17 266.25 L423.53 269.62 L430.88 270.18 L438.24 270.18 L445.6 270.97 L452.96 274.23 L460.32 272.09 L467.67 271.87 L475.03 268.61 L482.39 267.49 L489.75 264.9 L497.11 262.09 L504.46 261.64 L511.82 259.73 L519.18 258.04 L526.54 258.94 L533.9 257.82 L541.25 256.13 L548.61 257.82 L555.97 256.13 L563.33 256.7 L570.69 255.57 L578.04 257.37 L585.4 259.28 L592.76 261.19 L600.12 263.22 L607.48 264.9 L614.83 266.81 L622.19 268.16 L629.55 268.16 L636.91 267.26 L644.27 267.26 L651.62 267.26 L658.98 264.56 L666.34 260.18 L673.7 257.37 L681.06 256.47 L688.41 255.57 L695.77 255.8 L703.13 254.56 L710.49 253.89 L717.85 256.47 L725.2 255.57 L732.56 255.57 L739.92 256.47 L747.28 257.37 L754.64 263.22 L761.99 269.06 L769.35 275.8 L776.71 278.95 L784.07 281.42 L791.43 281.99 L798.78 283.9 L806.14 282.66 L813.5 281.99 L820.86 278.5 L828.22 276.59 L835.57 271.42 L842.93 266.25 L850.29 262.54 L857.65 259.73 L865.01 257.82 L872.36 256.92 L879.72 256.7 L887.08 255.68 L894.44 256.92 L901.8 255.68 L909.15 255.68 L916.51 255.57 L923.87 259.28 L931.23 261.64 L938.59 266.81 L945.94 272.09 L953.3 276.59 L960.66 278.95 L968.02 280.86 L975.38 283.67 L982.73 285.02 L990.09 285.02 L997.45 283.67 L1004.81 280.3 L1012.17 276.14 L1019.52 270.18 L1026.88 268.39 L1034.24 264.56 L1041.6 263.89 L1048.96 262.54 L1056.31 261.64 L1063.67 261.98 L1071.03 261.64 L1078.39 261.3 L1085.75 261.98 L1093.1 260.74 L1100.46 261.3 L1107.82 266.7 L1115.18 272.54 L1122.54 278.5 L1129.89 282.55 L1137.25 285.92 L1144.61 287.27 L1151.97 288.51 L1159.33 288.51 L1166.68 287.94 L1174.04 287.27 L1181.4 284.35 L1188.76 279.18 L1196.12 270.18 L1203.47 267.26 L1210.83 261.98 L1218.19 261.3 L1225.55 260.18 L1232.91 260.52 L1240.26 260.74 L1247.62 261.98 L1254.98 261.3 L1262.34 261.98 L1269.7 261.98 L1277.05 262.88 L1284.41 267.26 L1291.77 274.68 L1299.13 281.99 L1306.49 288.51 L1313.84 292.33 L1321.2 295.25 L1328.56 296.71 L1335.92 297.38 L1343.28 296.71 L1350.63 295.59 L1357.99 291.54 L1365.35 286.48 L1372.71 277.6 L1380.07 275.47 L1387.42 270.18 L1394.78 269.62 L1402.14 269.06 L1409.5 268.72 L1416.86 268.72" fill="none" stroke="#447f58" stroke-width="2.4" stroke-linejoin="round"/>
</g>
<path d="M92.42 251.3V363.7M136.56 251.3V363.7M224.86 251.3V363.7M269.01 251.3V363.7M313.16 251.3V363.7M401.45 251.3V363.7M445.6 251.3V363.7M489.75 251.3V363.7M578.04 251.3V363.7M622.19 251.3V363.7M666.34 251.3V363.7M754.64 251.3V363.7M798.78 251.3V363.7M842.93 251.3V363.7M931.23 251.3V363.7M975.38 251.3V363.7M1019.52 251.3V363.7M1107.82 251.3V363.7M1151.97 251.3V363.7M1196.12 251.3V363.7M1284.41 251.3V363.7M1328.56 251.3V363.7M1372.71 251.3V363.7M77.7 335.6H1416.86M77.7 307.5H1416.86M77.7 279.4H1416.86" stroke="#b0b0b0" stroke-width="1.1" fill="none" opacity="0.9"/>
<path d="M180.71 251.3V363.7M357.3 251.3V363.7M533.9 251.3V363.7M710.49 251.3V363.7M887.08 251.3V363.7M1063.67 251.3V363.7M1240.26 251.3V363.7" stroke="#1c1c1c" stroke-width="2" fill="none"/>
<g clip-path="url(#c2)">
<path d="M77.7 351.76 L85.06 344.73 L92.42 342.62 L99.77 341.92 L107.13 340.52 L114.49 340.52 L121.85 343.33 L129.21 344.03 L143.92 344.03 L151.28 343.33 L158.64 340.52 L166 339.11 L173.35 340.52 L188.07 340.52 L195.43 339.82 L202.79 340.52 L210.14 339.82 L217.5 339.82 L224.86 335.6 L232.22 333.49 L239.58 330.33 L246.93 328.93 L269.01 328.93 L291.08 322.6 L313.16 319.79 L335.23 316.63 L357.3 318.04 L379.38 321.2 L401.45 323.1 L423.53 322.6 L445.6 325.06 L467.67 315.23 L489.75 311.01 L511.82 307.5 L533.9 312.07 L555.97 313.12 L578.04 309.96 L600.12 302.93 L622.19 299.07 L644.27 295.91 L666.34 291.69 L688.41 280.45 L710.49 283.26 L732.56 285.37 L754.64 280.45 L776.71 277.64 L798.78 278.7 L820.86 279.4 L842.93 277.29 L865.01 271.67 L887.08 281.86 L909.15 289.59 L931.23 287.13 L953.3 287.13 L975.38 292.04 L997.45 290.99 L1019.52 291.69 L1041.6 288.88 L1063.67 294.86 L1085.75 298.58 L1107.82 294.36 L1129.89 296.47 L1151.97 298.79 L1174.04 297.67 L1196.12 296.26 L1218.19 294.36 L1240.26 301.88" fill="none" stroke="#8b0000" stroke-width="2.4" stroke-linejoin="round"/>
</g>
<rect x="77.7" y="251.3" width="1339.16" height="112.4" fill="none" stroke="#000" stroke-width="1.5"/>
<text x="92.42" y="379" font-size="13.33" fill="#000" text-anchor="middle">12</text>
<text x="136.56" y="379" font-size="13.33" fill="#000" text-anchor="middle">18</text>
<text x="180.71" y="379" font-size="13.33" fill="#000" text-anchor="middle">0</text>
<text x="224.86" y="379" font-size="13.33" fill="#000" text-anchor="middle">6</text>
<text x="269.01" y="379" font-size="13.33" fill="#000" text-anchor="middle">12</text>
<text x="313.16" y="379" font-size="13.33" fill="#000" text-anchor="middle">18</text>
<text x="357.3" y="379" font-size="13.33" fill="#000" text-anchor="middle">0</text>
<text x="401.45" y="379" font-size="13.33" fill="#000" text-anchor="middle">6</text>
<text x="445.6" y="379" font-size="13.33" fill="#000" text-anchor="middle">12</text>
<text x="489.75" y="379" font-size="13.33" fill="#000" text-anchor="middle">18</text>
<text x="533.9" y="379" font-size="13.33" fill="#000" text-anchor="middle">0</text>
<text x="578.04" y="379" font-size="13.33" fill="#000" text-anchor="middle">6</text>
<text x="622.19" y="379" font-size="13.33" fill="#000" text-anchor="middle">12</text>
<text x="666.34" y="379" font-size="13.33" fill="#000" text-anchor="middle">18</text>
<text x="710.49" y="379" font-size="13.33" fill="#000" text-anchor="middle">0</text>
<text x="754.64" y="379" font-size="13.33" fill="#000" text-anchor="middle">6</text>
<text x="798.78" y="379" font-size="13.33" fill="#000" text-anchor="middle">12</text>
<text x="842.93" y="379" font-size="13.33" fill="#000" text-anchor="middle">18</text>
<text x="887.08" y="379" font-size="13.33" fill="#000" text-anchor="middle">0</text>
<text x="931.23" y="379" font-size="13.33" fill="#000" text-anchor="middle">6</text>
<text x="975.38" y="379" font-size="13.33" fill="#000" text-anchor="middle">12</text>
<text x="1019.52" y="379" font-size="13.33" fill="#000" text-anchor="middle">18</text>
<text x="1063.67" y="379" font-size="13.33" fill="#000" text-anchor="middle">0</text>
<text x="1107.82" y="379" font-size="13.33" fill="#000" text-anchor="middle">6</text>
<text x="1151.97" y="379" font-size="13.33" fill="#000" text-anchor="middle">12</text>
<text x="1196.12" y="379" font-size="13.33" fill="#000" text-anchor="middle">18</text>
<text x="1240.26" y="379" font-size="13.33" fill="#000" text-anchor="middle">0</text>
<text x="1284.41" y="379" font-size="13.33" fill="#000" text-anchor="middle">6</text>
<text x="1328.56" y="379" font-size="13.33" fill="#000" text-anchor="middle">12</text>
<text x="1372.71" y="379" font-size="13.33" fill="#000" text-anchor="middle">18</text>
<text x="1416.86" y="379" font-size="13.33" fill="#000" text-anchor="middle">0</text>
<text x="72.7" y="368.55" font-size="13.33" fill="#000" text-anchor="end">0</text>
<text x="72.7" y="340.45" font-size="13.33" fill="#000" text-anchor="end">25</text>
<text x="72.7" y="312.35" font-size="13.33" fill="#000" text-anchor="end">50</text>
<text x="72.7" y="284.25" font-size="13.33" fill="#000" text-anchor="end">75</text>
<text x="72.7" y="256.15" font-size="13.33" fill="#000" text-anchor="end">100</text>
<text x="1421.56" y="368.55" font-size="13.33" fill="#000">1010</text>
<text x="1421.56" y="340.45" font-size="13.33" fill="#000">1014</text>
<text x="1421.56" y="312.35" font-size="13.33" fill="#000">1018</text>
<text x="1421.56" y="284.25" font-size="13.33" fill="#000">1022</text>
<text x="1421.56" y="256.15" font-size="13.33" fill="#000">1026</text>
<text x="24.5" y="307.5" font-size="16" fill="#000" text-anchor="middle" transform="rotate(-90 24.5 307.5)">relative Luft-</text>
<text x="42.2" y="307.5" font-size="16" fill="#000" text-anchor="middle" transform="rotate(-90 42.2 307.5)">feuchtigkeit (%)</text>
<text x="1472.5" y="307.5" font-size="16" fill="#8b0000" text-anchor="middle" transform="rotate(-90 1472.5 307.5)">red. Luftdruck (hPa)</text>
<path d="M92.42 386.6V499M136.56 386.6V499M224.86 386.6V499M269.01 386.6V499M313.16 386.6V499M401.45 386.6V499M445.6 386.6V499M489.75 386.6V499M578.04 386.6V499M622.19 386.6V499M666.34 386.6V499M754.64 386.6V499M798.78 386.6V499M842.93 386.6V499M931.23 386.6V499M975.38 386.6V499M1019.52 386.6V499M1107.82 386.6V499M1151.97 386.6V499M1196.12 386.6V499M1284.41 386.6V499M1328.56 386.6V499M1372.71 386.6V499M77.7 470.9H1416.86M77.7 442.8H1416.86M77.7 414.7H1416.86" stroke="#b0b0b0" stroke-width="1.1" fill="none" opacity="1"/>
<g clip-path="url(#c3)">
<rect x="77.7" y="486.86" width="58.86" height="12.14" fill="#f9b777"/>
<rect x="136.56" y="498.55" width="88.3" height="0.45" fill="#f9b777"/>
<rect x="224.86" y="489.67" width="88.3" height="9.33" fill="#f9b777"/>
<rect x="313.16" y="484.95" width="88.3" height="14.05" fill="#f9b777"/>
<rect x="401.45" y="487.31" width="88.3" height="11.69" fill="#f9b777"/>
<rect x="489.75" y="491.47" width="44.15" height="7.53" fill="#f9b777"/>
<rect x="533.9" y="493.16" width="44.15" height="5.84" fill="#f9b777"/>
<rect x="578.04" y="496.19" width="88.3" height="2.81" fill="#f9b777"/>
<rect x="666.34" y="497.31" width="88.3" height="1.69" fill="#f9b777"/>
<rect x="754.64" y="494.28" width="88.3" height="4.72" fill="#f9b777"/>
<rect x="842.93" y="497.31" width="88.3" height="1.69" fill="#f9b777"/>
<rect x="931.23" y="492.71" width="88.3" height="6.29" fill="#f9b777"/>
<rect x="1019.52" y="498.55" width="88.3" height="0.45" fill="#f9b777"/>
<rect x="1107.82" y="488.43" width="88.3" height="10.57" fill="#f9b777"/>
<rect x="1196.12" y="497.31" width="88.3" height="1.69" fill="#f9b777"/>
<rect x="1284.41" y="490.57" width="88.3" height="8.43" fill="#f9b777"/>
<rect x="1372.71" y="494.95" width="44.15" height="4.05" fill="#f9b777"/>
</g>
<path d="M92.42 386.6V499M136.56 386.6V499M224.86 386.6V499M269.01 386.6V499M313.16 386.6V499M401.45 386.6V499M445.6 386.6V499M489.75 386.6V499M578.04 386.6V499M622.19 386.6V499M666.34 386.6V499M754.64 386.6V499M798.78 386.6V499M842.93 386.6V499M931.23 386.6V499M975.38 386.6V499M1019.52 386.6V499M1107.82 386.6V499M1151.97 386.6V499M1196.12 386.6V499M1284.41 386.6V499M1328.56 386.6V499M1372.71 386.6V499" stroke="#b0b0b0" stroke-width="1.1" fill="none" opacity="0.5"/>
<path d="M180.71 386.6V499M357.3 386.6V499M533.9 386.6V499M710.49 386.6V499M887.08 386.6V499M1063.67 386.6V499M1240.26 386.6V499" stroke="#1c1c1c" stroke-width="2" fill="none"/>
<g clip-path="url(#c3)">
<path d="M77.7 471.24 L85.06 474.71 L92.42 478.18 L99.77 474.71 L107.13 474.71 L114.49 471.24 L121.85 471.24 L129.21 471.24 L136.56 474.71 L143.92 478.18 L151.28 481.65 L158.64 481.65 L166 481.65 L173.35 485.12 L180.71 481.65 L188.07 481.65 L195.43 481.65 L202.79 481.65 L210.14 485.12 L217.5 485.12 L224.86 485.12 L232.22 485.12 L239.58 485.12 L246.93 478.18 L254.29 474.71 L261.65 467.78 L269.01 467.78 L276.37 464.31 L283.72 467.78 L291.08 467.78 L298.44 467.78 L305.8 467.78 L313.16 467.78 L320.51 471.24 L327.87 471.24 L335.23 474.71 L342.59 471.24 L349.95 471.24 L357.3 471.24 L364.66 467.78 L372.02 471.24 L379.38 471.24 L386.74 471.24 L394.09 471.24 L401.45 471.24 L408.81 467.78 L416.17 467.78 L423.53 467.78 L430.88 464.31 L438.24 464.31 L445.6 460.84 L452.96 457.37 L460.32 457.37 L467.67 464.31 L475.03 460.84 L482.39 460.84 L489.75 464.31 L497.11 464.31 L504.46 471.24 L511.82 474.71 L519.18 474.71 L526.54 474.71 L533.9 474.71 L541.25 478.18 L548.61 481.65 L555.97 481.65 L563.33 478.18 L570.69 478.18 L578.04 481.65 L585.4 481.65 L592.76 478.18 L600.12 478.18 L607.48 474.71 L614.83 467.78 L622.19 464.31 L629.55 464.31 L636.91 464.31 L644.27 467.78 L651.62 471.24 L658.98 474.71 L666.34 474.71 L673.7 481.65 L681.06 485.12 L688.41 488.59 L695.77 485.12 L703.13 485.12 L710.49 481.65 L717.85 481.65 L725.2 481.65 L732.56 481.65 L739.92 481.65 L747.28 481.65 L754.64 481.65 L761.99 478.18 L769.35 474.71 L776.71 471.24 L784.07 464.31 L791.43 460.84 L798.78 460.84 L806.14 460.84 L813.5 457.37 L820.86 460.84 L828.22 460.84 L835.57 467.78 L842.93 471.24 L850.29 474.71 L857.65 478.18 L865.01 485.12 L872.36 481.65 L879.72 481.65 L887.08 481.65 L894.44 481.65 L901.8 478.18 L909.15 481.65 L916.51 478.18 L923.87 478.18 L931.23 478.18 L938.59 474.71 L945.94 471.24 L953.3 464.31 L960.66 460.84 L968.02 460.84 L975.38 457.37 L982.73 457.37 L990.09 457.37 L997.45 457.37 L1004.81 460.84 L1012.17 464.31 L1019.52 471.24 L1026.88 471.24 L1034.24 474.71 L1041.6 474.71 L1048.96 478.18 L1056.31 478.18 L1063.67 481.65 L1071.03 481.65 L1078.39 481.65 L1085.75 481.65 L1093.1 485.12 L1100.46 481.65 L1107.82 481.65 L1115.18 481.65 L1122.54 474.71 L1129.89 467.78 L1137.25 464.31 L1144.61 460.84 L1151.97 453.9 L1159.33 457.37 L1166.68 457.37 L1174.04 457.37 L1181.4 460.84 L1188.76 467.78 L1196.12 474.71 L1203.47 478.18 L1210.83 485.12 L1218.19 485.12 L1225.55 481.65 L1232.91 481.65 L1240.26 481.65 L1247.62 481.65 L1254.98 481.65 L1262.34 481.65 L1269.7 481.65 L1277.05 481.65 L1284.41 478.18 L1291.77 478.18 L1299.13 474.71 L1306.49 467.78 L1313.84 460.84 L1321.2 457.37 L1328.56 453.9 L1335.92 453.9 L1343.28 453.9 L1350.63 457.37 L1357.99 460.84 L1365.35 464.31 L1372.71 471.24 L1380.07 474.71 L1387.42 478.18 L1394.78 478.18 L1402.14 478.18 L1409.5 478.18 L1416.86 478.18" fill="none" stroke="#a45ff0" stroke-width="2.7" stroke-linejoin="round"/>
<path d="M77.7 485.12 L85.06 485.12 L92.42 485.12 L99.77 488.59 L107.13 485.12 L114.49 485.12 L121.85 485.12 L129.21 485.12 L136.56 485.12 L143.92 488.59 L151.28 488.59 L158.64 492.06 L166 492.06 L173.35 492.06 L180.71 492.06 L188.07 492.06 L195.43 492.06 L202.79 492.06 L210.14 492.06 L217.5 492.06 L224.86 492.06 L232.22 492.06 L239.58 488.59 L246.93 488.59 L254.29 488.59 L261.65 485.12 L269.01 485.12 L276.37 485.12 L283.72 485.12 L291.08 485.12 L298.44 488.59 L305.8 488.59 L313.16 488.59 L320.51 488.59 L327.87 488.59 L335.23 488.59 L342.59 488.59 L349.95 492.06 L357.3 492.06 L364.66 488.59 L372.02 492.06 L379.38 488.59 L386.74 488.59 L394.09 488.59 L401.45 488.59 L408.81 492.06 L416.17 488.59 L423.53 488.59 L430.88 488.59 L438.24 488.59 L445.6 485.12 L452.96 485.12 L460.32 485.12 L467.67 488.59 L475.03 488.59 L482.39 488.59 L489.75 488.59 L497.11 488.59 L504.46 488.59 L511.82 488.59 L519.18 488.59 L526.54 488.59 L533.9 488.59 L541.25 492.06 L548.61 492.06 L555.97 492.06 L563.33 492.06 L570.69 492.06 L578.04 492.06 L585.4 492.06 L592.76 488.59 L600.12 488.59 L607.48 488.59 L614.83 485.12 L622.19 485.12 L629.55 485.12 L636.91 485.12 L644.27 485.12 L651.62 485.12 L658.98 488.59 L666.34 488.59 L673.7 492.06 L681.06 492.06 L688.41 492.06 L695.77 492.06 L703.13 492.06 L710.49 492.06 L717.85 492.06 L725.2 488.59 L732.56 492.06 L739.92 492.06 L747.28 492.06 L754.64 492.06 L761.99 488.59 L769.35 488.59 L776.71 485.12 L784.07 481.65 L791.43 481.65 L798.78 478.18 L806.14 478.18 L813.5 478.18 L820.86 478.18 L828.22 481.65 L835.57 485.12 L842.93 485.12 L850.29 488.59 L857.65 488.59 L865.01 488.59 L872.36 492.06 L879.72 492.06 L887.08 492.06 L894.44 492.06 L901.8 492.06 L909.15 488.59 L916.51 492.06 L923.87 488.59 L931.23 488.59 L938.59 488.59 L945.94 485.12 L953.3 481.65 L960.66 478.18 L968.02 474.71 L975.38 474.71 L982.73 478.18 L990.09 478.18 L997.45 478.18 L1004.81 481.65 L1012.17 485.12 L1019.52 485.12 L1026.88 485.12 L1034.24 488.59 L1041.6 488.59 L1048.96 488.59 L1056.31 492.06 L1063.67 492.06 L1071.03 492.06 L1078.39 492.06 L1085.75 492.06 L1093.1 492.06 L1100.46 492.06 L1107.82 492.06 L1115.18 488.59 L1122.54 485.12 L1129.89 481.65 L1137.25 478.18 L1144.61 474.71 L1151.97 474.71 L1159.33 478.18 L1166.68 478.18 L1174.04 478.18 L1181.4 481.65 L1188.76 485.12 L1196.12 488.59 L1203.47 488.59 L1210.83 492.06 L1218.19 492.06 L1225.55 492.06 L1232.91 492.06 L1240.26 492.06 L1247.62 492.06 L1254.98 492.06 L1262.34 492.06 L1269.7 492.06 L1277.05 492.06 L1284.41 488.59 L1291.77 488.59 L1299.13 485.12 L1306.49 481.65 L1313.84 478.18 L1321.2 474.71 L1328.56 474.71 L1335.92 474.71 L1343.28 474.71 L1350.63 478.18 L1357.99 481.65 L1365.35 485.12 L1372.71 485.12 L1380.07 488.59 L1387.42 488.59 L1394.78 488.59 L1402.14 488.59 L1409.5 488.59 L1416.86 492.06" fill="none" stroke="#000" stroke-width="2.7" stroke-linejoin="round"/>
<path d="M86.84 414.58L97.99 403.96M95.95 415.07L97.99 403.96M86.79 405.45L97.99 403.96M108.26 413.79L120.72 404.74M117.23 415.49L120.72 404.74M109.42 404.74L120.72 404.74M131.48 415.05L141.65 403.48M140.6 414.73L141.65 403.48M130.62 405.97L141.65 403.48M166.33 409.54L150.94 409M160.31 402.68L150.94 409M159.85 415.96L150.94 409M188.27 410.74L173.15 407.8M183.39 403.02L173.15 407.8M180.86 416.06L173.15 407.8M210.11 411.65L195.46 406.89M206.21 403.4L195.46 406.89M202.1 416.03L195.46 406.89M232.1 411.9L217.62 406.63M228.49 403.52L217.62 406.63M223.94 416L217.62 406.63M242.09 415.25L251.78 403.28M251.19 414.57L251.78 403.28M240.86 406.21L251.78 403.28M261.87 412.15L276.15 406.38M270.16 415.97L276.15 406.38M265.18 403.65L276.15 406.38M284.05 412.4L298.12 406.14M292.47 415.92L298.12 406.14M287.06 403.79L298.12 406.14M320.56 411.39L305.75 407.14M316.37 403.28L305.75 407.14M312.71 416.05L305.75 407.14M342.81 407.93L327.65 410.6M335.5 402.48L327.65 410.6M337.8 415.56L327.65 410.6M361.83 403.04L352.78 415.5M352.78 404.2L352.78 415.5M363.52 412L352.78 415.5M386.91 407.67L371.85 410.87M379.41 402.47L371.85 410.87M382.17 415.46L371.85 410.87M409.15 409.13L393.75 409.4M402.78 402.6L393.75 409.4M403.01 415.88L393.75 409.4M429.16 414.52L417.89 404.02M429.11 405.39L417.89 404.02M420.05 415.11L417.89 404.02M437.91 409.67L453.29 408.86M444.51 415.98L453.29 408.86M443.81 402.71L453.29 408.86M460.46 411.96L474.89 406.57M468.65 415.99L474.89 406.57M464 403.55L474.89 406.57M482.38 411.52L497.11 407.02M490.31 416.04L497.11 407.02M486.43 403.34L497.11 407.02M519.34 407.6L504.3 410.93M511.79 402.47L504.3 410.93M514.67 415.44L504.3 410.93M541.54 408.33L526.25 410.21M534.52 402.5L526.25 410.21M536.14 415.68L526.25 410.21M563.6 408.2L548.34 410.34M556.47 402.49L548.34 410.34M558.32 415.64L548.34 410.34M582.12 415.8L573.96 402.74M584.44 406.97L573.96 402.74M573.18 414.01L573.96 402.74M592.7 411.33L607.54 407.21M600.5 416.05L607.54 407.21M596.95 403.25L607.54 407.21M614.52 408.6L629.86 409.94M620.18 415.76L629.86 409.94M621.33 402.52L629.86 409.94M637.6 413.12L650.93 405.42M646.34 415.74L650.93 405.42M639.7 404.24L650.93 405.42M660.8 414.62L671.88 403.92M669.92 415.05L671.88 403.92M660.69 405.49L671.88 403.92M695.92 411L680.91 407.54M691.31 403.12L680.91 407.54M688.32 416.06L680.91 407.54M718.19 409.27L702.79 409.27M711.93 402.63L702.79 409.27M711.93 415.91L702.79 409.27M740.18 410.41L724.95 408.13M734.97 402.91L724.95 408.13M733.01 416.05L724.95 408.13M761.67 412.4L747.6 406.14M758.65 403.79L747.6 406.14M753.25 415.92L747.6 406.14M769.7 412.46L783.72 406.07M778.15 415.91L783.72 406.07M772.64 403.82L783.72 406.07M791.28 411L806.29 407.54M798.87 416.06L806.29 407.54M795.88 403.12L806.29 407.54M813.74 412.21L827.97 406.32M822.07 415.96L827.97 406.32M816.98 403.68L827.97 406.32M835.95 412.52L849.91 406.01M844.43 415.9L849.91 406.01M838.82 403.86L849.91 406.01M872.59 410.6L857.42 407.93M867.58 402.98L857.42 407.93M865.27 416.06L857.42 407.93M893.91 412.82L880.25 405.71M891.43 404.04L880.25 405.71M885.29 415.82L880.25 405.71M915.68 413.35L902.62 405.19M913.9 404.4L902.62 405.19M906.86 415.66L902.62 405.19M936.18 415.17L926.28 403.37M937.24 406.1L926.28 403.37M927.07 414.64L926.28 403.37M947.32 414.11L959.29 404.42M956.36 415.34L959.29 404.42M948 405.01L959.29 404.42M968.71 413.12L982.04 405.42M977.45 415.74L982.04 405.42M970.81 404.24L982.04 405.42M990.65 412.88L1004.25 405.65M999.3 415.81L1004.25 405.65M993.06 404.08L1004.25 405.65M1012.38 412.15L1026.66 406.38M1020.68 415.97L1026.66 406.38M1015.7 403.65L1026.66 406.38M1049.1 411L1034.1 407.54M1044.5 403.12L1034.1 407.54M1041.51 416.06L1034.1 407.54M1071.14 411.13L1056.2 407.4M1066.68 403.17L1056.2 407.4M1063.46 416.06L1056.2 407.4M1093.11 411.52L1078.38 407.02M1089.07 403.34L1078.38 407.02M1085.18 416.04L1078.38 407.02M1114.62 412.88L1101.02 405.65M1112.21 404.08L1101.02 405.65M1105.97 415.81L1101.02 405.65M1123.87 414.06L1135.92 404.47M1132.9 415.36L1135.92 404.47M1124.63 404.97L1135.92 404.47M1144.93 412.4L1159 406.14M1153.35 415.92L1159 406.14M1147.95 403.79L1159 406.14M1167.24 412.88L1180.84 405.65M1175.89 415.81L1180.84 405.65M1169.65 404.08L1180.84 405.65M1189.17 412.59L1203.06 405.94M1197.69 415.88L1203.06 405.94M1191.95 403.9L1203.06 405.94M1225.86 408.6L1210.52 409.94M1219.05 402.52L1210.52 409.94M1220.21 415.76L1210.52 409.94M1247.96 409.27L1232.56 409.27M1241.71 402.63L1232.56 409.27M1241.71 415.91L1232.56 409.27M1270 410.07L1254.68 408.46M1264.47 402.81L1254.68 408.46M1263.08 416.02L1254.68 408.46M1291.65 411.9L1277.18 406.63M1288.04 403.52L1277.18 406.63M1283.5 416L1277.18 406.63M1300.48 414.08L1312.5 404.45M1309.51 415.35L1312.5 404.45M1301.21 404.99L1312.5 404.45M1321.37 412.03L1335.75 406.51M1329.59 415.98L1335.75 406.51M1324.83 403.58L1335.75 406.51M1343.71 412.64L1357.55 405.89M1352.25 415.87L1357.55 405.89M1346.43 403.93L1357.55 405.89M1367.56 414.99L1377.86 403.55M1376.68 414.78L1377.86 403.55M1366.81 405.89L1377.86 403.55M1402.43 408.4L1387.13 410.14M1395.46 402.5L1387.13 410.14M1396.97 415.7L1387.13 410.14" stroke="#000" stroke-width="1.35" fill="none" stroke-linecap="butt"/>
</g>
<text x="85" y="398.6" font-size="13.33" fill="#000">Mittlere Windgeschwindigkeit 10min</text>
<text x="357.5" y="398.6" font-size="13.33" fill="#a45ff0">Windböen 1h</text>
<text x="1064.5" y="398.6" font-size="13.33" fill="#000">12h Wahrscheinlichkeit Böen</text>
<text x="1259" y="398.6" font-size="13.33" fill="#dfa568" font-weight="bold">&gt;45</text>
<text x="1292.5" y="398.6" font-size="13.33" fill="#e38b78" font-weight="bold">&gt;75</text>
<text x="1328.5" y="398.6" font-size="13.33" fill="#dd7eee" font-weight="bold">&gt;100 km/h</text>
<rect x="77.7" y="386.6" width="1339.16" height="112.4" fill="none" stroke="#000" stroke-width="1.5"/>
<text x="92.42" y="514.3" font-size="13.33" fill="#000" text-anchor="middle">12</text>
<text x="136.56" y="514.3" font-size="13.33" fill="#000" text-anchor="middle">18</text>
<text x="180.71" y="514.3" font-size="13.33" fill="#000" text-anchor="middle">0</text>
<text x="224.86" y="514.3" font-size="13.33" fill="#000" text-anchor="middle">6</text>
<text x="269.01" y="514.3" font-size="13.33" fill="#000" text-anchor="middle">12</text>
<text x="313.16" y="514.3" font-size="13.33" fill="#000" text-anchor="middle">18</text>
<text x="357.3" y="514.3" font-size="13.33" fill="#000" text-anchor="middle">0</text>
<text x="401.45" y="514.3" font-size="13.33" fill="#000" text-anchor="middle">6</text>
<text x="445.6" y="514.3" font-size="13.33" fill="#000" text-anchor="middle">12</text>
<text x="489.75" y="514.3" font-size="13.33" fill="#000" text-anchor="middle">18</text>
<text x="533.9" y="514.3" font-size="13.33" fill="#000" text-anchor="middle">0</text>
<text x="578.04" y="514.3" font-size="13.33" fill="#000" text-anchor="middle">6</text>
<text x="622.19" y="514.3" font-size="13.33" fill="#000" text-anchor="middle">12</text>
<text x="666.34" y="514.3" font-size="13.33" fill="#000" text-anchor="middle">18</text>
<text x="710.49" y="514.3" font-size="13.33" fill="#000" text-anchor="middle">0</text>
<text x="754.64" y="514.3" font-size="13.33" fill="#000" text-anchor="middle">6</text>
<text x="798.78" y="514.3" font-size="13.33" fill="#000" text-anchor="middle">12</text>
<text x="842.93" y="514.3" font-size="13.33" fill="#000" text-anchor="middle">18</text>
<text x="887.08" y="514.3" font-size="13.33" fill="#000" text-anchor="middle">0</text>
<text x="931.23" y="514.3" font-size="13.33" fill="#000" text-anchor="middle">6</text>
<text x="975.38" y="514.3" font-size="13.33" fill="#000" text-anchor="middle">12</text>
<text x="1019.52" y="514.3" font-size="13.33" fill="#000" text-anchor="middle">18</text>
<text x="1063.67" y="514.3" font-size="13.33" fill="#000" text-anchor="middle">0</text>
<text x="1107.82" y="514.3" font-size="13.33" fill="#000" text-anchor="middle">6</text>
<text x="1151.97" y="514.3" font-size="13.33" fill="#000" text-anchor="middle">12</text>
<text x="1196.12" y="514.3" font-size="13.33" fill="#000" text-anchor="middle">18</text>
<text x="1240.26" y="514.3" font-size="13.33" fill="#000" text-anchor="middle">0</text>
<text x="1284.41" y="514.3" font-size="13.33" fill="#000" text-anchor="middle">6</text>
<text x="1328.56" y="514.3" font-size="13.33" fill="#000" text-anchor="middle">12</text>
<text x="1372.71" y="514.3" font-size="13.33" fill="#000" text-anchor="middle">18</text>
<text x="1416.86" y="514.3" font-size="13.33" fill="#000" text-anchor="middle">0</text>
<text x="72.7" y="503.85" font-size="13.33" fill="#000" text-anchor="end">0</text>
<text x="72.7" y="475.75" font-size="13.33" fill="#000" text-anchor="end">15</text>
<text x="72.7" y="447.65" font-size="13.33" fill="#000" text-anchor="end">30</text>
<text x="72.7" y="419.55" font-size="13.33" fill="#000" text-anchor="end">45</text>
<text x="1421.56" y="503.85" font-size="13.33" fill="#000">0</text>
<text x="1421.56" y="475.75" font-size="13.33" fill="#000">25</text>
<text x="1421.56" y="447.65" font-size="13.33" fill="#000">50</text>
<text x="1421.56" y="419.55" font-size="13.33" fill="#000">75</text>
<text x="1421.56" y="391.45" font-size="13.33" fill="#000">100</text>
<text x="25.8" y="442.8" font-size="16" fill="#000" text-anchor="middle" transform="rotate(-90 25.8 442.8)">Wind (km/h)</text>
<path d="M92.42 521.3V691.3M136.56 521.3V691.3M224.86 521.3V691.3M269.01 521.3V691.3M313.16 521.3V691.3M401.45 521.3V691.3M445.6 521.3V691.3M489.75 521.3V691.3M578.04 521.3V691.3M622.19 521.3V691.3M666.34 521.3V691.3M754.64 521.3V691.3M798.78 521.3V691.3M842.93 521.3V691.3M931.23 521.3V691.3M975.38 521.3V691.3M1019.52 521.3V691.3M1107.82 521.3V691.3M1151.97 521.3V691.3M1196.12 521.3V691.3M1284.41 521.3V691.3M1328.56 521.3V691.3M1372.71 521.3V691.3M77.7 648.8H1416.86M77.7 606.3H1416.86M77.7 563.8H1416.86" stroke="#b0b0b0" stroke-width="1.1" fill="none" opacity="1"/>
<g clip-path="url(#c4)">
<rect x="70.34" y="580.27" width="22.07" height="111.03" fill="#4f74cd" stroke="#7c98dc" stroke-width="0.6"/>
<rect x="92.42" y="613.74" width="22.07" height="77.56" fill="#4f74cd" stroke="#7c98dc" stroke-width="0.6"/>
<rect x="114.49" y="636.05" width="22.07" height="55.25" fill="#4f74cd" stroke="#7c98dc" stroke-width="0.6"/>
<rect x="136.56" y="656.24" width="22.07" height="35.06" fill="#4f74cd" stroke="#7c98dc" stroke-width="0.6"/>
<rect x="158.64" y="661.02" width="22.07" height="30.28" fill="#4f74cd" stroke="#7c98dc" stroke-width="0.6"/>
<rect x="180.71" y="672.71" width="22.07" height="18.59" fill="#4f74cd" stroke="#7c98dc" stroke-width="0.6"/>
<rect x="202.79" y="671.11" width="22.07" height="20.19" fill="#4f74cd" stroke="#7c98dc" stroke-width="0.6"/>
<rect x="224.86" y="679.93" width="22.07" height="11.37" fill="#4f74cd" stroke="#7c98dc" stroke-width="0.6"/>
<rect x="246.93" y="684.92" width="22.07" height="6.38" fill="#4f74cd" stroke="#7c98dc" stroke-width="0.6"/>
<rect x="269.01" y="676.85" width="22.07" height="14.45" fill="#4f74cd" stroke="#7c98dc" stroke-width="0.6"/>
<rect x="291.08" y="643.81" width="22.07" height="47.49" fill="#4f74cd" stroke="#7c98dc" stroke-width="0.6"/>
<rect x="313.16" y="605.77" width="22.07" height="85.53" fill="#4f74cd" stroke="#7c98dc" stroke-width="0.6"/>
<rect x="335.23" y="593.02" width="22.07" height="98.28" fill="#4f74cd" stroke="#7c98dc" stroke-width="0.6"/>
<rect x="357.3" y="594.82" width="22.07" height="96.48" fill="#4f74cd" stroke="#7c98dc" stroke-width="0.6"/>
<rect x="379.38" y="574.85" width="22.07" height="116.45" fill="#4f74cd" stroke="#7c98dc" stroke-width="0.6"/>
<rect x="401.45" y="650.92" width="22.07" height="40.38" fill="#4f74cd" stroke="#7c98dc" stroke-width="0.6"/>
<rect x="423.53" y="637.22" width="22.07" height="54.08" fill="#4f74cd" stroke="#7c98dc" stroke-width="0.6"/>
<rect x="445.6" y="620.22" width="22.07" height="71.08" fill="#4f74cd" stroke="#7c98dc" stroke-width="0.6"/>
<rect x="467.67" y="603.43" width="22.07" height="87.87" fill="#4f74cd" stroke="#7c98dc" stroke-width="0.6"/>
<rect x="489.75" y="610.87" width="22.07" height="80.43" fill="#4f74cd" stroke="#7c98dc" stroke-width="0.6"/>
<rect x="511.82" y="621.39" width="22.07" height="69.91" fill="#4f74cd" stroke="#7c98dc" stroke-width="0.6"/>
<rect x="533.9" y="658.68" width="22.07" height="32.62" fill="#4f74cd" stroke="#7c98dc" stroke-width="0.6"/>
<rect x="555.97" y="647.31" width="22.07" height="43.99" fill="#4f74cd" stroke="#7c98dc" stroke-width="0.6"/>
<rect x="578.04" y="660.06" width="22.07" height="31.24" fill="#4f74cd" stroke="#7c98dc" stroke-width="0.6"/>
<rect x="600.12" y="657.51" width="22.07" height="33.79" fill="#4f74cd" stroke="#7c98dc" stroke-width="0.6"/>
<rect x="622.19" y="662.82" width="22.07" height="28.48" fill="#4f74cd" stroke="#7c98dc" stroke-width="0.6"/>
<rect x="644.27" y="638.39" width="22.07" height="52.91" fill="#4f74cd" stroke="#7c98dc" stroke-width="0.6"/>
<rect x="754.64" y="641.89" width="22.07" height="49.41" fill="#4f74cd" stroke="#7c98dc" stroke-width="0.6"/>
<rect x="776.71" y="653.58" width="22.07" height="37.72" fill="#4f74cd" stroke="#7c98dc" stroke-width="0.6"/>
</g>
<path d="M92.42 521.3V691.3M136.56 521.3V691.3M224.86 521.3V691.3M269.01 521.3V691.3M313.16 521.3V691.3M401.45 521.3V691.3M445.6 521.3V691.3M489.75 521.3V691.3M578.04 521.3V691.3M622.19 521.3V691.3M666.34 521.3V691.3M754.64 521.3V691.3M798.78 521.3V691.3M842.93 521.3V691.3M931.23 521.3V691.3M975.38 521.3V691.3M1019.52 521.3V691.3M1107.82 521.3V691.3M1151.97 521.3V691.3M1196.12 521.3V691.3M1284.41 521.3V691.3M1328.56 521.3V691.3M1372.71 521.3V691.3M77.7 648.8H1416.86M77.7 606.3H1416.86M77.7 563.8H1416.86" stroke="#b0b0b0" stroke-width="1.1" fill="none" opacity="0.6"/>
<path d="M180.71 521.3V691.3M357.3 521.3V691.3M533.9 521.3V691.3M710.49 521.3V691.3M887.08 521.3V691.3M1063.67 521.3V691.3M1240.26 521.3V691.3" stroke="#1c1c1c" stroke-width="2" fill="none"/>
<g clip-path="url(#c4)">
<path d="M92.42 533.71 L180.71 540.17 L269.01 560.4 L313.16 547.65 L357.3 541.7 L401.45 543.74 L445.6 545.27 L489.75 545.27 L533.9 545.27 L578.04 548.5 L622.19 555.3 L666.34 555.3 L710.49 578.59 L754.64 609.7 L798.78 609.7 L842.93 609.7 L887.08 611.74 L931.23 606.3 L975.38 647.27 L1019.52 622.11 L1063.67 668.01 L1107.82 669.37 L1151.97 665.8 L1196.12 638.09 L1240.26 653.39 L1284.41 677.87 L1328.56 674.3 L1372.71 662.4 L1416.86 652.37" fill="none" stroke="#808080" stroke-width="2" stroke-linejoin="round"/>
<path d="M92.42 648.97 L114.49 655.94 L136.56 635.71 L158.64 664.1 L180.71 677.7 L202.79 686.2 L224.86 689.6 L246.93 687.9 L269.01 686.71 L291.08 665.8 L313.16 654.24 L335.23 659 L357.3 669.2 L379.38 681.44 L401.45 686.2 L423.53 689.6 L445.6 689.6 L467.67 677.7 L489.75 661.21 L511.82 642.34 L533.9 643.7 L555.97 650.5 L578.04 665.8 L600.12 676 L622.19 687.9 L644.27 665.8 L666.34 642.34 L688.41 643.7 L710.49 665.29 L732.56 678.55 L754.64 684.16 L776.71 687.9 L798.78 687.9 L820.86 676.85 L842.93 665.8 L865.01 659 L887.08 672.94 L909.15 679.74 L931.23 683.14 L953.3 687.9 L975.38 686.2 L997.45 674.47 L1019.52 659 L1041.6 655.94 L1063.67 667.67 L1085.75 670.22 L1107.82 676 L1129.89 686.2 L1151.97 686.2 L1174.04 672.6 L1196.12 654.75 L1218.19 642.17 L1240.26 653.39 L1262.34 665.8 L1284.41 669.37 L1306.49 684.5 L1328.56 686.2 L1350.63 674.3 L1372.71 653.9 L1394.78 647.1 L1416.86 655.6" fill="none" stroke="#ff0000" stroke-width="2.1" stroke-linejoin="round"/>
</g>
<text x="81.38" y="577.27" font-size="14.67" fill="#000" text-anchor="middle">10</text>
<text x="103.45" y="610.74" font-size="14.67" fill="#000" text-anchor="middle">7</text>
<text x="125.53" y="633.05" font-size="14.67" fill="#000" text-anchor="middle">5</text>
<text x="147.6" y="653.24" font-size="14.67" fill="#000" text-anchor="middle">3</text>
<text x="169.68" y="658.02" font-size="14.67" fill="#000" text-anchor="middle">3</text>
<text x="191.75" y="669.71" font-size="14.67" fill="#000" text-anchor="middle">2</text>
<text x="213.82" y="668.11" font-size="14.67" fill="#000" text-anchor="middle">2</text>
<text x="235.9" y="676.93" font-size="14.67" fill="#000" text-anchor="middle">1</text>
<text x="257.97" y="681.92" font-size="14.67" fill="#000" text-anchor="middle">1</text>
<text x="280.05" y="673.85" font-size="14.67" fill="#000" text-anchor="middle">1</text>
<text x="302.12" y="640.81" font-size="14.67" fill="#000" text-anchor="middle">4</text>
<text x="324.19" y="602.77" font-size="14.67" fill="#000" text-anchor="middle">8</text>
<text x="346.27" y="590.02" font-size="14.67" fill="#000" text-anchor="middle">9</text>
<text x="368.34" y="591.82" font-size="14.67" fill="#000" text-anchor="middle">9</text>
<text x="390.41" y="571.85" font-size="14.67" fill="#000" text-anchor="middle">11</text>
<text x="412.49" y="647.92" font-size="14.67" fill="#000" text-anchor="middle">4</text>
<text x="434.56" y="634.22" font-size="14.67" fill="#000" text-anchor="middle">5</text>
<text x="456.64" y="617.22" font-size="14.67" fill="#000" text-anchor="middle">7</text>
<text x="478.71" y="600.43" font-size="14.67" fill="#000" text-anchor="middle">8</text>
<text x="500.78" y="607.87" font-size="14.67" fill="#000" text-anchor="middle">8</text>
<text x="522.86" y="618.39" font-size="14.67" fill="#000" text-anchor="middle">7</text>
<text x="544.93" y="655.68" font-size="14.67" fill="#000" text-anchor="middle">3</text>
<text x="567.01" y="644.31" font-size="14.67" fill="#000" text-anchor="middle">4</text>
<text x="589.08" y="657.06" font-size="14.67" fill="#000" text-anchor="middle">3</text>
<text x="611.15" y="654.51" font-size="14.67" fill="#000" text-anchor="middle">3</text>
<text x="633.23" y="659.82" font-size="14.67" fill="#000" text-anchor="middle">3</text>
<text x="655.3" y="635.39" font-size="14.67" fill="#000" text-anchor="middle">5</text>
<text x="677.38" y="688.3" font-size="14.67" fill="#999" text-anchor="middle">0</text>
<text x="699.45" y="688.3" font-size="14.67" fill="#999" text-anchor="middle">0</text>
<text x="721.52" y="688.3" font-size="14.67" fill="#999" text-anchor="middle">0</text>
<text x="743.6" y="688.3" font-size="14.67" fill="#999" text-anchor="middle">0</text>
<text x="765.67" y="638.89" font-size="14.67" fill="#000" text-anchor="middle">5</text>
<text x="787.75" y="650.58" font-size="14.67" fill="#000" text-anchor="middle">4</text>
<text x="809.82" y="688.3" font-size="14.67" fill="#999" text-anchor="middle">0</text>
<text x="831.89" y="688.3" font-size="14.67" fill="#999" text-anchor="middle">0</text>
<text x="853.97" y="688.3" font-size="14.67" fill="#999" text-anchor="middle">0</text>
<text x="876.04" y="688.3" font-size="14.67" fill="#999" text-anchor="middle">0</text>
<text x="898.12" y="688.3" font-size="14.67" fill="#999" text-anchor="middle">0</text>
<text x="920.19" y="688.3" font-size="14.67" fill="#999" text-anchor="middle">0</text>
<text x="942.26" y="688.3" font-size="14.67" fill="#999" text-anchor="middle">0</text>
<text x="964.34" y="688.3" font-size="14.67" fill="#999" text-anchor="middle">0</text>
<text x="986.41" y="688.3" font-size="14.67" fill="#999" text-anchor="middle">0</text>
<text x="1008.49" y="688.3" font-size="14.67" fill="#999" text-anchor="middle">0</text>
<text x="1030.56" y="688.3" font-size="14.67" fill="#999" text-anchor="middle">0</text>
<text x="1052.63" y="688.3" font-size="14.67" fill="#999" text-anchor="middle">0</text>
<text x="1074.71" y="688.3" font-size="14.67" fill="#999" text-anchor="middle">0</text>
<text x="1096.78" y="688.3" font-size="14.67" fill="#999" text-anchor="middle">0</text>
<text x="1118.86" y="688.3" font-size="14.67" fill="#999" text-anchor="middle">0</text>
<text x="1140.93" y="688.3" font-size="14.67" fill="#999" text-anchor="middle">0</text>
<text x="1163" y="688.3" font-size="14.67" fill="#999" text-anchor="middle">0</text>
<text x="1185.08" y="688.3" font-size="14.67" fill="#999" text-anchor="middle">0</text>
<text x="1207.15" y="688.3" font-size="14.67" fill="#999" text-anchor="middle">0</text>
<text x="1229.23" y="688.3" font-size="14.67" fill="#999" text-anchor="middle">0</text>
<text x="1251.3" y="688.3" font-size="14.67" fill="#999" text-anchor="middle">0</text>
<text x="1273.38" y="688.3" font-size="14.67" fill="#999" text-anchor="middle">0</text>
<text x="1295.45" y="688.3" font-size="14.67" fill="#999" text-anchor="middle">0</text>
<text x="1317.52" y="688.3" font-size="14.67" fill="#999" text-anchor="middle">0</text>
<text x="1339.6" y="688.3" font-size="14.67" fill="#999" text-anchor="middle">0</text>
<text x="1361.67" y="688.3" font-size="14.67" fill="#999" text-anchor="middle">0</text>
<text x="1383.74" y="688.3" font-size="14.67" fill="#999" text-anchor="middle">0</text>
<text x="1405.82" y="688.3" font-size="14.67" fill="#999" text-anchor="middle">0</text>
<text x="79" y="536.8" font-size="13.33" fill="#000">ww3h</text>
<text x="79" y="551.5" font-size="13.33" fill="#000">RR12h</text>
<text x="125.53" y="536.8" font-size="12" fill="#000" text-anchor="middle">65</text>
<text x="147.6" y="536.8" font-size="12" fill="#000" text-anchor="middle">63</text>
<text x="169.68" y="536.8" font-size="12" fill="#000" text-anchor="middle">61</text>
<text x="191.75" y="536.8" font-size="12" fill="#000" text-anchor="middle">61</text>
<text x="213.82" y="536.8" font-size="12" fill="#000" text-anchor="middle">61</text>
<text x="235.9" y="536.8" font-size="12" fill="#000" text-anchor="middle">61</text>
<text x="257.97" y="536.8" font-size="12" fill="#000" text-anchor="middle">61</text>
<text x="280.05" y="536.8" font-size="12" fill="#000" text-anchor="middle">82</text>
<text x="302.12" y="536.8" font-size="12" fill="#000" text-anchor="middle">82</text>
<text x="324.19" y="536.8" font-size="12" fill="#000" text-anchor="middle">65</text>
<text x="346.27" y="536.8" font-size="12" fill="#000" text-anchor="middle">65</text>
<text x="368.34" y="536.8" font-size="12" fill="#000" text-anchor="middle">65</text>
<text x="390.41" y="536.8" font-size="12" fill="#000" text-anchor="middle">55</text>
<text x="412.49" y="536.8" font-size="12" fill="#000" text-anchor="middle">55</text>
<text x="434.56" y="536.8" font-size="12" fill="#000" text-anchor="middle">65</text>
<text x="456.64" y="536.8" font-size="12" fill="#000" text-anchor="middle">65</text>
<text x="478.71" y="536.8" font-size="12" fill="#000" text-anchor="middle">65</text>
<text x="500.78" y="536.8" font-size="12" fill="#000" text-anchor="middle">65</text>
<text x="522.86" y="536.8" font-size="12" fill="#000" text-anchor="middle">65</text>
<text x="544.93" y="536.8" font-size="12" fill="#000" text-anchor="middle">63</text>
<text x="567.01" y="536.8" font-size="12" fill="#000" text-anchor="middle">53</text>
<text x="589.08" y="536.8" font-size="12" fill="#000" text-anchor="middle">63</text>
<text x="611.15" y="536.8" font-size="12" fill="#000" text-anchor="middle">53</text>
<text x="633.23" y="536.8" font-size="12" fill="#000" text-anchor="middle">63</text>
<text x="655.3" y="536.8" font-size="12" fill="#000" text-anchor="middle">63</text>
<text x="677.38" y="536.8" font-size="12" fill="#000" text-anchor="middle">95</text>
<text x="699.45" y="536.8" font-size="12" fill="#000" text-anchor="middle">51</text>
<text x="721.52" y="536.8" font-size="12" fill="#000" text-anchor="middle">45</text>
<text x="743.6" y="536.8" font-size="12" fill="#000" text-anchor="middle">45</text>
<text x="765.67" y="536.8" font-size="12" fill="#000" text-anchor="middle">51</text>
<text x="787.75" y="536.8" font-size="12" fill="#000" text-anchor="middle">61</text>
<text x="809.82" y="536.8" font-size="12" fill="#000" text-anchor="middle">81</text>
<text x="831.89" y="536.8" font-size="12" fill="#000" text-anchor="middle">2</text>
<text x="853.97" y="536.8" font-size="12" fill="#000" text-anchor="middle">2</text>
<text x="876.04" y="536.8" font-size="12" fill="#000" text-anchor="middle">45</text>
<text x="898.12" y="536.8" font-size="12" fill="#000" text-anchor="middle">61</text>
<text x="920.19" y="536.8" font-size="12" fill="#000" text-anchor="middle">51</text>
<text x="942.26" y="536.8" font-size="12" fill="#000" text-anchor="middle">45</text>
<text x="964.34" y="536.8" font-size="12" fill="#000" text-anchor="middle">2</text>
<text x="986.41" y="536.8" font-size="12" fill="#000" text-anchor="middle">3</text>
<text x="1008.49" y="536.8" font-size="12" fill="#000" text-anchor="middle">2</text>
<text x="1030.56" y="536.8" font-size="12" fill="#000" text-anchor="middle">2</text>
<text x="1052.63" y="536.8" font-size="12" fill="#000" text-anchor="middle">45</text>
<text x="1074.71" y="536.8" font-size="12" fill="#000" text-anchor="middle">45</text>
<text x="1096.78" y="536.8" font-size="12" fill="#000" text-anchor="middle">45</text>
<text x="1118.86" y="536.8" font-size="12" fill="#000" text-anchor="middle">45</text>
<text x="1140.93" y="536.8" font-size="12" fill="#000" text-anchor="middle">2</text>
<text x="1163" y="536.8" font-size="12" fill="#000" text-anchor="middle">95</text>
<text x="1185.08" y="536.8" font-size="12" fill="#000" text-anchor="middle">2</text>
<text x="1207.15" y="536.8" font-size="12" fill="#000" text-anchor="middle">2</text>
<text x="1229.23" y="536.8" font-size="12" fill="#000" text-anchor="middle">45</text>
<text x="1251.3" y="536.8" font-size="12" fill="#000" text-anchor="middle">45</text>
<text x="1273.38" y="536.8" font-size="12" fill="#000" text-anchor="middle">45</text>
<text x="1295.45" y="536.8" font-size="12" fill="#000" text-anchor="middle">45</text>
<text x="1317.52" y="536.8" font-size="12" fill="#000" text-anchor="middle">1</text>
<text x="1339.6" y="536.8" font-size="12" fill="#000" text-anchor="middle">1</text>
<text x="1361.67" y="536.8" font-size="12" fill="#000" text-anchor="middle">1</text>
<text x="1383.74" y="536.8" font-size="12" fill="#000" text-anchor="middle">1</text>
<text x="1405.82" y="536.8" font-size="12" fill="#000" text-anchor="middle">1</text>
<text x="136.56" y="551.5" font-size="12" fill="#000" text-anchor="middle">45</text>
<text x="224.86" y="551.5" font-size="12" fill="#000" text-anchor="middle">8</text>
<text x="313.16" y="551.5" font-size="12" fill="#000" text-anchor="middle">8</text>
<text x="401.45" y="551.5" font-size="12" fill="#000" text-anchor="middle">38</text>
<text x="489.75" y="551.5" font-size="12" fill="#000" text-anchor="middle">24</text>
<text x="578.04" y="551.5" font-size="12" fill="#000" text-anchor="middle">22</text>
<text x="666.34" y="551.5" font-size="12" fill="#000" text-anchor="middle">14</text>
<text x="754.64" y="551.5" font-size="12" fill="#000" text-anchor="middle">0</text>
<text x="842.93" y="551.5" font-size="12" fill="#000" text-anchor="middle">8</text>
<text x="931.23" y="551.5" font-size="12" fill="#000" text-anchor="middle">0</text>
<text x="1019.52" y="551.5" font-size="12" fill="#000" text-anchor="middle">0</text>
<text x="1107.82" y="551.5" font-size="12" fill="#000" text-anchor="middle">0</text>
<text x="1196.12" y="551.5" font-size="12" fill="#000" text-anchor="middle">0</text>
<text x="1284.41" y="551.5" font-size="12" fill="#000" text-anchor="middle">0</text>
<text x="1372.71" y="551.5" font-size="12" fill="#000" text-anchor="middle">0</text>
<text x="79" y="581.3" font-size="17.33" fill="#4f74cd">Regen</text>
<text x="79" y="601.5" font-size="17.33" fill="#7fbfff">Schnee</text>
<text x="1409" y="581.3" font-size="17.33" fill="#808080" text-anchor="end">- Niederschlag</text>
<text x="1409" y="601.5" font-size="17.33" fill="#ff0000" text-anchor="end">- Gewitter</text>
<rect x="77.7" y="521.3" width="1339.16" height="170" fill="none" stroke="#000" stroke-width="1.5"/>
<text x="92.42" y="706.6" font-size="13.33" fill="#000" text-anchor="middle">12</text>
<text x="136.56" y="706.6" font-size="13.33" fill="#000" text-anchor="middle">18</text>
<text x="180.71" y="706.6" font-size="13.33" fill="#000" text-anchor="middle">0</text>
<text x="224.86" y="706.6" font-size="13.33" fill="#000" text-anchor="middle">6</text>
<text x="269.01" y="706.6" font-size="13.33" fill="#000" text-anchor="middle">12</text>
<text x="313.16" y="706.6" font-size="13.33" fill="#000" text-anchor="middle">18</text>
<text x="357.3" y="706.6" font-size="13.33" fill="#000" text-anchor="middle">0</text>
<text x="401.45" y="706.6" font-size="13.33" fill="#000" text-anchor="middle">6</text>
<text x="445.6" y="706.6" font-size="13.33" fill="#000" text-anchor="middle">12</text>
<text x="489.75" y="706.6" font-size="13.33" fill="#000" text-anchor="middle">18</text>
<text x="533.9" y="706.6" font-size="13.33" fill="#000" text-anchor="middle">0</text>
<text x="578.04" y="706.6" font-size="13.33" fill="#000" text-anchor="middle">6</text>
<text x="622.19" y="706.6" font-size="13.33" fill="#000" text-anchor="middle">12</text>
<text x="666.34" y="706.6" font-size="13.33" fill="#000" text-anchor="middle">18</text>
<text x="710.49" y="706.6" font-size="13.33" fill="#000" text-anchor="middle">0</text>
<text x="754.64" y="706.6" font-size="13.33" fill="#000" text-anchor="middle">6</text>
<text x="798.78" y="706.6" font-size="13.33" fill="#000" text-anchor="middle">12</text>
<text x="842.93" y="706.6" font-size="13.33" fill="#000" text-anchor="middle">18</text>
<text x="887.08" y="706.6" font-size="13.33" fill="#000" text-anchor="middle">0</text>
<text x="931.23" y="706.6" font-size="13.33" fill="#000" text-anchor="middle">6</text>
<text x="975.38" y="706.6" font-size="13.33" fill="#000" text-anchor="middle">12</text>
<text x="1019.52" y="706.6" font-size="13.33" fill="#000" text-anchor="middle">18</text>
<text x="1063.67" y="706.6" font-size="13.33" fill="#000" text-anchor="middle">0</text>
<text x="1107.82" y="706.6" font-size="13.33" fill="#000" text-anchor="middle">6</text>
<text x="1151.97" y="706.6" font-size="13.33" fill="#000" text-anchor="middle">12</text>
<text x="1196.12" y="706.6" font-size="13.33" fill="#000" text-anchor="middle">18</text>
<text x="1240.26" y="706.6" font-size="13.33" fill="#000" text-anchor="middle">0</text>
<text x="1284.41" y="706.6" font-size="13.33" fill="#000" text-anchor="middle">6</text>
<text x="1328.56" y="706.6" font-size="13.33" fill="#000" text-anchor="middle">12</text>
<text x="1372.71" y="706.6" font-size="13.33" fill="#000" text-anchor="middle">18</text>
<text x="1416.86" y="706.6" font-size="13.33" fill="#000" text-anchor="middle">0</text>
<text x="72.7" y="696.15" font-size="13.33" fill="#000" text-anchor="end">0</text>
<text x="72.7" y="653.65" font-size="13.33" fill="#000" text-anchor="end">4</text>
<text x="72.7" y="611.15" font-size="13.33" fill="#000" text-anchor="end">8</text>
<text x="72.7" y="568.65" font-size="13.33" fill="#000" text-anchor="end">12</text>
<text x="1421.56" y="696.15" font-size="13.33" fill="#000">0</text>
<text x="1421.56" y="653.65" font-size="13.33" fill="#000">25</text>
<text x="1421.56" y="611.15" font-size="13.33" fill="#000">50</text>
<text x="1421.56" y="568.65" font-size="13.33" fill="#000">75</text>
<text x="1421.56" y="526.15" font-size="13.33" fill="#000">100</text>
<text x="24.5" y="606.3" font-size="16" fill="#000" text-anchor="middle" transform="rotate(-90 24.5 606.3)">Niederschlag</text>
<text x="42.2" y="606.3" font-size="16" fill="#000" text-anchor="middle" transform="rotate(-90 42.2 606.3)">3h-Summen (mm)</text>
<text x="1458.4" y="608.8" font-size="16" fill="#000" text-anchor="middle" transform="rotate(-90 1458.4 608.8)">Wahrscheinlichkeit</text>
<text x="1476.2" y="608.8" font-size="16" fill="#000" text-anchor="middle" transform="rotate(-90 1476.2 608.8)">vergangene 6h (%)</text>
<path d="M92.42 714V826.3M136.56 714V826.3M224.86 714V826.3M269.01 714V826.3M313.16 714V826.3M401.45 714V826.3M445.6 714V826.3M489.75 714V826.3M578.04 714V826.3M622.19 714V826.3M666.34 714V826.3M754.64 714V826.3M798.78 714V826.3M842.93 714V826.3M931.23 714V826.3M975.38 714V826.3M1019.52 714V826.3M1107.82 714V826.3M1151.97 714V826.3M1196.12 714V826.3M1284.41 714V826.3M1328.56 714V826.3M1372.71 714V826.3" stroke="#c8c8c8" stroke-width="1.1" fill="none" opacity="1"/>
<g clip-path="url(#c5)">
<path d="M77.7 826.3 L77.7 826.3 L118.17 826.3 L124.79 818.1 L132.88 818.1 L140.24 821.81 L154.96 826.3 L235.16 826.3 L243.25 818.44 L250.61 812.82 L261.65 807.21 L265.33 803.39 L272.69 809.45 L280.05 819.56 L287.4 826.3 L589.08 826.3 L603.8 820.68 L611.15 821.81 L618.51 820.68 L625.87 822.37 L633.23 826.3 L646.47 826.3 L655.3 821.81 L662.66 821.81 L670.02 824.05 L681.06 826.3 L736.24 826.3 L743.6 824.05 L750.96 815.07 L758.32 798.22 L765.67 783.63 L773.03 773.52 L780.39 771.27 L787.75 772.96 L795.11 778.57 L802.46 780.26 L809.82 785.87 L817.18 789.8 L824.54 795.42 L831.89 802.72 L839.25 814.51 L846.61 821.81 L853.97 825.74 L857.65 826.3 L912.83 826.3 L920.19 822.37 L927.55 811.14 L934.91 801.59 L942.26 795.98 L949.62 788.12 L956.98 788.12 L964.34 788.12 L971.7 784.19 L979.05 788.12 L986.41 793.73 L993.77 795.42 L1001.13 795.42 L1008.49 802.16 L1015.85 814.51 L1023.2 820.68 L1030.56 824.05 L1037.92 825.96 L1041.6 826.3 L1089.42 826.3 L1096.78 818.44 L1104.14 802.72 L1111.5 782.5 L1118.86 766.78 L1126.21 757.8 L1133.57 754.43 L1140.93 757.8 L1148.29 757.8 L1155.65 762.29 L1163 770.15 L1170.36 779.7 L1177.72 789.24 L1185.08 795.42 L1192.44 810.58 L1199.8 818.44 L1207.15 824.05 L1214.51 826.3 L1266.02 826.3 L1273.38 820.68 L1280.73 801.59 L1288.09 776.89 L1295.45 753.3 L1302.81 743.2 L1310.16 738.71 L1317.52 737.02 L1324.88 743.2 L1332.24 749.94 L1339.6 757.8 L1346.95 767.34 L1354.31 778.57 L1361.67 784.75 L1369.03 801.59 L1376.39 812.82 L1383.74 821.81 L1391.1 825.74 L1394.78 826.3 L1416.86 826.3 L1416.86 826.3 Z" fill="#ff7f0e" stroke="#ff7f0e" stroke-width="1.2"/>
</g>
<path d="M92.42 714V826.3M136.56 714V826.3M224.86 714V826.3M269.01 714V826.3M313.16 714V826.3M401.45 714V826.3M445.6 714V826.3M489.75 714V826.3M578.04 714V826.3M622.19 714V826.3M666.34 714V826.3M754.64 714V826.3M798.78 714V826.3M842.93 714V826.3M931.23 714V826.3M975.38 714V826.3M1019.52 714V826.3M1107.82 714V826.3M1151.97 714V826.3M1196.12 714V826.3M1284.41 714V826.3M1328.56 714V826.3M1372.71 714V826.3" stroke="#c8c8c8" stroke-width="1.1" fill="none" opacity="0.6"/>
<path d="M180.71 714V826.3M357.3 714V826.3M533.9 714V826.3M710.49 714V826.3M887.08 714V826.3M1063.67 714V826.3M1240.26 714V826.3" stroke="#1c1c1c" stroke-width="2" fill="none"/>
<g clip-path="url(#c5)">
<path d="M92.42 820.07 L114.49 815.72 L136.56 812.62 L158.64 810.65 L180.71 808.96 L202.79 807.91 L224.86 806.78 L246.93 806.14 L269.01 805.79 L291.08 804.98 L313.16 802.31 L335.23 797.51 L357.3 792 L379.38 786.59 L401.45 780.06 L423.53 777.79 L445.6 774.76 L467.67 770.77 L489.75 765.84 L511.82 761.33 L533.9 757.41 L555.97 755.58 L578.04 753.11 L600.12 751.36 L622.19 749.46 L644.27 747.87 L666.34 744.9 L688.41 744.9 L710.49 744.9 L732.56 744.9 L754.64 744.9 L776.71 742.13 L798.78 740.01 L820.86 740.01 L842.93 740.01 L865.01 740.01 L887.08 740.01 L909.15 740.01 L931.23 740.01 L953.3 740.01 L975.38 740.01 L997.45 740.01 L1019.52 740.01 L1041.6 740.01 L1063.67 740.01 L1085.75 740.01 L1107.82 740.01 L1129.89 740.01 L1151.97 740.01 L1174.04 740.01 L1196.12 740.01 L1218.19 740.01 L1240.26 740.01 L1262.34 740.01 L1284.41 740.01 L1306.49 740.01 L1328.56 740.01 L1350.63 740.01 L1372.71 740.01 L1394.78 740.01 L1416.86 740.01" fill="none" stroke="#0000ff" stroke-width="3" stroke-linejoin="round"/>
<circle cx="224.86" cy="806.78" r="3.3" fill="#0000ff"/>
<text x="216.56" y="800.28" font-size="16" fill="#0000ff">32</text>
<circle cx="401.45" cy="780.06" r="3.3" fill="#0000ff"/>
<text x="393.15" y="773.56" font-size="16" fill="#0000ff">78</text>
<circle cx="578.04" cy="753.11" r="3.3" fill="#0000ff"/>
<text x="569.74" y="746.61" font-size="16" fill="#0000ff">123</text>
<circle cx="754.64" cy="744.9" r="3.3" fill="#0000ff"/>
<text x="746.34" y="738.4" font-size="16" fill="#0000ff">137</text>
<circle cx="931.23" cy="740.01" r="3.3" fill="#0000ff"/>
<text x="922.93" y="733.51" font-size="16" fill="#0000ff">145</text>
<circle cx="1107.82" cy="740.01" r="3.3" fill="#0000ff"/>
<text x="1099.52" y="733.51" font-size="16" fill="#0000ff">145</text>
<circle cx="1284.41" cy="740.01" r="3.3" fill="#0000ff"/>
<text x="1276.11" y="733.51" font-size="16" fill="#0000ff">145</text>
</g>
<text x="85" y="735.5" font-size="21.3" fill="#000">Σ</text>
<text x="269.01" y="732" font-size="17.33" fill="#000" text-anchor="middle">0.8 h</text>
<text x="445.6" y="732" font-size="17.33" fill="#000" text-anchor="middle">0.1 h</text>
<text x="622.19" y="732" font-size="17.33" fill="#000" text-anchor="middle">2.3 h</text>
<text x="798.78" y="732" font-size="17.33" fill="#000" text-anchor="middle">3.8 h</text>
<text x="975.38" y="732" font-size="17.33" fill="#000" text-anchor="middle">4.0 h</text>
<text x="1151.97" y="732" font-size="17.33" fill="#000" text-anchor="middle">5.5 h</text>
<text x="1328.56" y="732" font-size="17.33" fill="#000" text-anchor="middle">6.2 h</text>
<rect x="77.7" y="714" width="1339.16" height="112.3" fill="none" stroke="#000" stroke-width="1.5"/>
<path d="M78.5 825H1416.06" stroke="#ff7f0e" stroke-width="1.0"/>
<text x="92.42" y="841.6" font-size="13.33" fill="#000" text-anchor="middle">12</text>
<text x="136.56" y="841.6" font-size="13.33" fill="#000" text-anchor="middle">18</text>
<text x="180.71" y="841.6" font-size="13.33" fill="#000" text-anchor="middle">0</text>
<text x="224.86" y="841.6" font-size="13.33" fill="#000" text-anchor="middle">6</text>
<text x="269.01" y="841.6" font-size="13.33" fill="#000" text-anchor="middle">12</text>
<text x="313.16" y="841.6" font-size="13.33" fill="#000" text-anchor="middle">18</text>
<text x="357.3" y="841.6" font-size="13.33" fill="#000" text-anchor="middle">0</text>
<text x="401.45" y="841.6" font-size="13.33" fill="#000" text-anchor="middle">6</text>
<text x="445.6" y="841.6" font-size="13.33" fill="#000" text-anchor="middle">12</text>
<text x="489.75" y="841.6" font-size="13.33" fill="#000" text-anchor="middle">18</text>
<text x="533.9" y="841.6" font-size="13.33" fill="#000" text-anchor="middle">0</text>
<text x="578.04" y="841.6" font-size="13.33" fill="#000" text-anchor="middle">6</text>
<text x="622.19" y="841.6" font-size="13.33" fill="#000" text-anchor="middle">12</text>
<text x="666.34" y="841.6" font-size="13.33" fill="#000" text-anchor="middle">18</text>
<text x="710.49" y="841.6" font-size="13.33" fill="#000" text-anchor="middle">0</text>
<text x="754.64" y="841.6" font-size="13.33" fill="#000" text-anchor="middle">6</text>
<text x="798.78" y="841.6" font-size="13.33" fill="#000" text-anchor="middle">12</text>
<text x="842.93" y="841.6" font-size="13.33" fill="#000" text-anchor="middle">18</text>
<text x="887.08" y="841.6" font-size="13.33" fill="#000" text-anchor="middle">0</text>
<text x="931.23" y="841.6" font-size="13.33" fill="#000" text-anchor="middle">6</text>
<text x="975.38" y="841.6" font-size="13.33" fill="#000" text-anchor="middle">12</text>
<text x="1019.52" y="841.6" font-size="13.33" fill="#000" text-anchor="middle">18</text>
<text x="1063.67" y="841.6" font-size="13.33" fill="#000" text-anchor="middle">0</text>
<text x="1107.82" y="841.6" font-size="13.33" fill="#000" text-anchor="middle">6</text>
<text x="1151.97" y="841.6" font-size="13.33" fill="#000" text-anchor="middle">12</text>
<text x="1196.12" y="841.6" font-size="13.33" fill="#000" text-anchor="middle">18</text>
<text x="1240.26" y="841.6" font-size="13.33" fill="#000" text-anchor="middle">0</text>
<text x="1284.41" y="841.6" font-size="13.33" fill="#000" text-anchor="middle">6</text>
<text x="1328.56" y="841.6" font-size="13.33" fill="#000" text-anchor="middle">12</text>
<text x="1372.71" y="841.6" font-size="13.33" fill="#000" text-anchor="middle">18</text>
<text x="1416.86" y="841.6" font-size="13.33" fill="#000" text-anchor="middle">0</text>
<text x="72.7" y="831.15" font-size="13.33" fill="#000" text-anchor="end">0</text>
<text x="72.7" y="803.07" font-size="13.33" fill="#000" text-anchor="end">25</text>
<text x="72.7" y="775" font-size="13.33" fill="#000" text-anchor="end">50</text>
<text x="72.7" y="746.93" font-size="13.33" fill="#000" text-anchor="end">75</text>
<text x="72.7" y="718.85" font-size="13.33" fill="#000" text-anchor="end">100</text>
<text x="1425.66" y="831.15" font-size="13.33" fill="#000">0</text>
<path d="M1416.86 826.3h4.7" stroke="#000" stroke-width="1.1"/>
<text x="1425.66" y="801.35" font-size="13.33" fill="#000">50</text>
<path d="M1416.86 796.5h4.7" stroke="#000" stroke-width="1.1"/>
<text x="1425.66" y="771.55" font-size="13.33" fill="#000">100</text>
<path d="M1416.86 766.7h4.7" stroke="#000" stroke-width="1.1"/>
<text x="1425.66" y="741.75" font-size="13.33" fill="#000">150</text>
<path d="M1416.86 736.9h4.7" stroke="#000" stroke-width="1.1"/>
<text x="24" y="770.15" font-size="16" fill="#000" text-anchor="middle" transform="rotate(-90 24 770.15)">relative Sonnen-</text>
<text x="41.8" y="770.15" font-size="16" fill="#000" text-anchor="middle" transform="rotate(-90 41.8 770.15)">scheindauer (%)</text>
<text x="1469.3" y="773.15" font-size="16" fill="#0000ff" text-anchor="middle" transform="rotate(-90 1469.3 773.15)">Niederschlag</text>
<text x="1486.7" y="773.15" font-size="16" fill="#0000ff" text-anchor="middle" transform="rotate(-90 1486.7 773.15)">summiert (mm)</text>
<g clip-path="url(#c6)" shape-rendering="crispEdges">
<rect x="77.7" y="848.4" width="3.3" height="22.9" fill="#6e6e6e"/>
<rect x="80.5" y="848.4" width="7.86" height="22.9" fill="#80bdf0"/>
<rect x="87.85" y="848.4" width="44.65" height="22.9" fill="#c6c6c6"/>
<rect x="132" y="848.4" width="15.22" height="22.9" fill="#d9d9d9"/>
<rect x="146.72" y="848.4" width="29.93" height="22.9" fill="#ececec"/>
<rect x="176.15" y="848.4" width="7.86" height="22.9" fill="#dff0fa"/>
<rect x="183.51" y="848.4" width="7.86" height="22.9" fill="#ececec"/>
<rect x="190.87" y="848.4" width="22.57" height="22.9" fill="#d9d9d9"/>
<rect x="212.94" y="848.4" width="7.86" height="22.9" fill="#ececec"/>
<rect x="220.3" y="848.4" width="7.86" height="22.9" fill="#dff0fa"/>
<rect x="227.66" y="848.4" width="15.22" height="22.9" fill="#ececec"/>
<rect x="242.37" y="848.4" width="7.86" height="22.9" fill="#d9d9d9"/>
<rect x="249.73" y="848.4" width="15.22" height="22.9" fill="#ececec"/>
<rect x="264.45" y="848.4" width="7.86" height="22.9" fill="#dff0fa"/>
<rect x="271.8" y="848.4" width="7.86" height="22.9" fill="#d9d9d9"/>
<rect x="279.16" y="848.4" width="7.86" height="22.9" fill="#a8a8a8"/>
<rect x="286.52" y="848.4" width="118.23" height="22.9" fill="#6e6e6e"/>
<rect x="404.25" y="848.4" width="7.86" height="22.9" fill="#a8a8a8"/>
<rect x="411.61" y="848.4" width="7.86" height="22.9" fill="#c6c6c6"/>
<rect x="418.96" y="848.4" width="15.22" height="22.9" fill="#d9d9d9"/>
<rect x="433.68" y="848.4" width="44.65" height="22.9" fill="#c6c6c6"/>
<rect x="477.83" y="848.4" width="22.57" height="22.9" fill="#d9d9d9"/>
<rect x="499.9" y="848.4" width="7.86" height="22.9" fill="#ececec"/>
<rect x="507.26" y="848.4" width="7.86" height="22.9" fill="#dff0fa"/>
<rect x="514.62" y="848.4" width="15.22" height="22.9" fill="#ececec"/>
<rect x="529.33" y="848.4" width="52.01" height="22.9" fill="#d9d9d9"/>
<rect x="580.84" y="848.4" width="7.86" height="22.9" fill="#c6c6c6"/>
<rect x="588.2" y="848.4" width="7.86" height="22.9" fill="#d9d9d9"/>
<rect x="595.56" y="848.4" width="15.22" height="22.9" fill="#c6c6c6"/>
<rect x="610.27" y="848.4" width="7.86" height="22.9" fill="#d9d9d9"/>
<rect x="617.63" y="848.4" width="74.08" height="22.9" fill="#c6c6c6"/>
<rect x="691.21" y="848.4" width="22.57" height="22.9" fill="#d9d9d9"/>
<rect x="713.28" y="848.4" width="7.86" height="22.9" fill="#ececec"/>
<rect x="720.64" y="848.4" width="29.93" height="22.9" fill="#dff0fa"/>
<rect x="750.07" y="848.4" width="7.86" height="22.9" fill="#80bdf0"/>
<rect x="757.43" y="848.4" width="29.93" height="22.9" fill="#b3dbfc"/>
<rect x="786.86" y="848.4" width="29.93" height="22.9" fill="#dff0fa"/>
<rect x="816.3" y="848.4" width="7.86" height="22.9" fill="#d9d9d9"/>
<rect x="823.65" y="848.4" width="15.22" height="22.9" fill="#ececec"/>
<rect x="838.37" y="848.4" width="7.86" height="22.9" fill="#d9d9d9"/>
<rect x="845.73" y="848.4" width="7.86" height="22.9" fill="#ececec"/>
<rect x="853.09" y="848.4" width="7.86" height="22.9" fill="#dff0fa"/>
<rect x="860.44" y="848.4" width="22.57" height="22.9" fill="#b3dbfc"/>
<rect x="882.52" y="848.4" width="37.29" height="22.9" fill="#80bdf0"/>
<rect x="919.31" y="848.4" width="15.22" height="22.9" fill="#b3dbfc"/>
<rect x="934.02" y="848.4" width="147.66" height="22.9" fill="#80bdf0"/>
<rect x="1081.18" y="848.4" width="7.86" height="22.9" fill="#b3dbfc"/>
<rect x="1088.54" y="848.4" width="7.86" height="22.9" fill="#80bdf0"/>
<rect x="1095.9" y="848.4" width="7.86" height="22.9" fill="#b3dbfc"/>
<rect x="1103.26" y="848.4" width="81.44" height="22.9" fill="#80bdf0"/>
<rect x="1184.2" y="848.4" width="7.86" height="22.9" fill="#b3dbfc"/>
<rect x="1191.55" y="848.4" width="155.02" height="22.9" fill="#80bdf0"/>
<rect x="1346.07" y="848.4" width="37.29" height="22.9" fill="#b3dbfc"/>
<rect x="1382.86" y="848.4" width="29.93" height="22.9" fill="#80bdf0"/>
<rect x="1412.29" y="848.4" width="5.06" height="22.9" fill="#b3dbfc"/>
<rect x="77.7" y="870.8" width="10.65" height="20.9" fill="#6e6e6e"/>
<rect x="87.85" y="870.8" width="7.86" height="20.9" fill="#8e8e8e"/>
<rect x="95.21" y="870.8" width="7.86" height="20.9" fill="#a8a8a8"/>
<rect x="102.57" y="870.8" width="7.86" height="20.9" fill="#c6c6c6"/>
<rect x="109.93" y="870.8" width="7.86" height="20.9" fill="#d9d9d9"/>
<rect x="117.29" y="870.8" width="22.57" height="20.9" fill="#ececec"/>
<rect x="139.36" y="870.8" width="15.22" height="20.9" fill="#dff0fa"/>
<rect x="154.08" y="870.8" width="15.22" height="20.9" fill="#ececec"/>
<rect x="168.79" y="870.8" width="15.22" height="20.9" fill="#d9d9d9"/>
<rect x="183.51" y="870.8" width="29.93" height="20.9" fill="#c6c6c6"/>
<rect x="212.94" y="870.8" width="7.86" height="20.9" fill="#d9d9d9"/>
<rect x="220.3" y="870.8" width="7.86" height="20.9" fill="#ececec"/>
<rect x="227.66" y="870.8" width="15.22" height="20.9" fill="#d9d9d9"/>
<rect x="242.37" y="870.8" width="7.86" height="20.9" fill="#c6c6c6"/>
<rect x="249.73" y="870.8" width="7.86" height="20.9" fill="#d9d9d9"/>
<rect x="257.09" y="870.8" width="15.22" height="20.9" fill="#ececec"/>
<rect x="271.8" y="870.8" width="7.86" height="20.9" fill="#d9d9d9"/>
<rect x="279.16" y="870.8" width="7.86" height="20.9" fill="#c6c6c6"/>
<rect x="286.52" y="870.8" width="22.57" height="20.9" fill="#8e8e8e"/>
<rect x="308.59" y="870.8" width="118.23" height="20.9" fill="#6e6e6e"/>
<rect x="426.32" y="870.8" width="7.86" height="20.9" fill="#8e8e8e"/>
<rect x="433.68" y="870.8" width="22.57" height="20.9" fill="#a8a8a8"/>
<rect x="455.75" y="870.8" width="7.86" height="20.9" fill="#8e8e8e"/>
<rect x="463.11" y="870.8" width="37.29" height="20.9" fill="#6e6e6e"/>
<rect x="499.9" y="870.8" width="15.22" height="20.9" fill="#8e8e8e"/>
<rect x="514.62" y="870.8" width="7.86" height="20.9" fill="#a8a8a8"/>
<rect x="521.98" y="870.8" width="7.86" height="20.9" fill="#c6c6c6"/>
<rect x="529.33" y="870.8" width="59.36" height="20.9" fill="#d9d9d9"/>
<rect x="588.2" y="870.8" width="7.86" height="20.9" fill="#ececec"/>
<rect x="595.56" y="870.8" width="15.22" height="20.9" fill="#d9d9d9"/>
<rect x="610.27" y="870.8" width="22.57" height="20.9" fill="#ececec"/>
<rect x="632.35" y="870.8" width="7.86" height="20.9" fill="#dff0fa"/>
<rect x="639.7" y="870.8" width="7.86" height="20.9" fill="#ececec"/>
<rect x="647.06" y="870.8" width="7.86" height="20.9" fill="#dff0fa"/>
<rect x="654.42" y="870.8" width="7.86" height="20.9" fill="#b3dbfc"/>
<rect x="661.78" y="870.8" width="22.57" height="20.9" fill="#dff0fa"/>
<rect x="683.85" y="870.8" width="15.22" height="20.9" fill="#ececec"/>
<rect x="698.57" y="870.8" width="15.22" height="20.9" fill="#dff0fa"/>
<rect x="713.28" y="870.8" width="15.22" height="20.9" fill="#b3dbfc"/>
<rect x="728" y="870.8" width="52.01" height="20.9" fill="#80bdf0"/>
<rect x="779.51" y="870.8" width="103.51" height="20.9" fill="#b3dbfc"/>
<rect x="882.52" y="870.8" width="37.29" height="20.9" fill="#dff0fa"/>
<rect x="919.31" y="870.8" width="88.8" height="20.9" fill="#b3dbfc"/>
<rect x="1007.6" y="870.8" width="7.86" height="20.9" fill="#80bdf0"/>
<rect x="1014.96" y="870.8" width="22.57" height="20.9" fill="#b3dbfc"/>
<rect x="1037.04" y="870.8" width="44.65" height="20.9" fill="#80bdf0"/>
<rect x="1081.18" y="870.8" width="22.57" height="20.9" fill="#b3dbfc"/>
<rect x="1103.26" y="870.8" width="44.65" height="20.9" fill="#80bdf0"/>
<rect x="1147.41" y="870.8" width="37.29" height="20.9" fill="#b3dbfc"/>
<rect x="1184.2" y="870.8" width="7.86" height="20.9" fill="#80bdf0"/>
<rect x="1191.55" y="870.8" width="15.22" height="20.9" fill="#b3dbfc"/>
<rect x="1206.27" y="870.8" width="140.3" height="20.9" fill="#80bdf0"/>
<rect x="1346.07" y="870.8" width="7.86" height="20.9" fill="#b3dbfc"/>
<rect x="1353.43" y="870.8" width="7.86" height="20.9" fill="#80bdf0"/>
<rect x="1360.79" y="870.8" width="15.22" height="20.9" fill="#b3dbfc"/>
<rect x="1375.5" y="870.8" width="29.93" height="20.9" fill="#dff0fa"/>
<rect x="1404.94" y="870.8" width="7.86" height="20.9" fill="#b3dbfc"/>
<rect x="1412.29" y="870.8" width="5.06" height="20.9" fill="#dff0fa"/>
<rect x="77.7" y="891.2" width="40.09" height="22.1" fill="#6e6e6e"/>
<rect x="117.29" y="891.2" width="37.29" height="22.1" fill="#999999"/>
<rect x="154.08" y="891.2" width="7.86" height="22.1" fill="#c6c6c6"/>
<rect x="161.43" y="891.2" width="37.29" height="22.1" fill="#999999"/>
<rect x="198.22" y="891.2" width="88.8" height="22.1" fill="#c6c6c6"/>
<rect x="286.52" y="891.2" width="29.93" height="22.1" fill="#999999"/>
<rect x="315.95" y="891.2" width="7.86" height="22.1" fill="#6e6e6e"/>
<rect x="323.31" y="891.2" width="15.22" height="22.1" fill="#999999"/>
<rect x="338.03" y="891.2" width="15.22" height="22.1" fill="#6e6e6e"/>
<rect x="352.74" y="891.2" width="7.86" height="22.1" fill="#999999"/>
<rect x="360.1" y="891.2" width="15.22" height="22.1" fill="#6e6e6e"/>
<rect x="374.82" y="891.2" width="22.57" height="22.1" fill="#999999"/>
<rect x="396.89" y="891.2" width="22.57" height="22.1" fill="#6e6e6e"/>
<rect x="418.96" y="891.2" width="22.57" height="22.1" fill="#999999"/>
<rect x="441.04" y="891.2" width="22.57" height="22.1" fill="#6e6e6e"/>
<rect x="463.11" y="891.2" width="15.22" height="22.1" fill="#999999"/>
<rect x="477.83" y="891.2" width="7.86" height="22.1" fill="#c6c6c6"/>
<rect x="485.19" y="891.2" width="22.57" height="22.1" fill="#6e6e6e"/>
<rect x="507.26" y="891.2" width="66.72" height="22.1" fill="#999999"/>
<rect x="573.48" y="891.2" width="7.86" height="22.1" fill="#c6c6c6"/>
<rect x="580.84" y="891.2" width="7.86" height="22.1" fill="#999999"/>
<rect x="588.2" y="891.2" width="7.86" height="22.1" fill="#c6c6c6"/>
<rect x="595.56" y="891.2" width="7.86" height="22.1" fill="#999999"/>
<rect x="602.91" y="891.2" width="37.29" height="22.1" fill="#c6c6c6"/>
<rect x="639.7" y="891.2" width="7.86" height="22.1" fill="#999999"/>
<rect x="647.06" y="891.2" width="7.86" height="22.1" fill="#c6c6c6"/>
<rect x="654.42" y="891.2" width="7.86" height="22.1" fill="#ececec"/>
<rect x="661.78" y="891.2" width="22.57" height="22.1" fill="#c6c6c6"/>
<rect x="683.85" y="891.2" width="59.36" height="22.1" fill="#e8e8e8"/>
<rect x="742.72" y="891.2" width="7.86" height="22.1" fill="#dff0fa"/>
<rect x="750.07" y="891.2" width="66.72" height="22.1" fill="#e8e8e8"/>
<rect x="816.3" y="891.2" width="7.86" height="22.1" fill="#c6c6c6"/>
<rect x="823.65" y="891.2" width="7.86" height="22.1" fill="#e8e8e8"/>
<rect x="831.01" y="891.2" width="7.86" height="22.1" fill="#d0e8fa"/>
<rect x="838.37" y="891.2" width="22.57" height="22.1" fill="#e8e8e8"/>
<rect x="860.44" y="891.2" width="22.57" height="22.1" fill="#d0e8fa"/>
<rect x="882.52" y="891.2" width="37.29" height="22.1" fill="#e8e8e8"/>
<rect x="919.31" y="891.2" width="7.86" height="22.1" fill="#d0e8fa"/>
<rect x="926.67" y="891.2" width="81.44" height="22.1" fill="#e8e8e8"/>
<rect x="1007.6" y="891.2" width="7.86" height="22.1" fill="#d0e8fa"/>
<rect x="1014.96" y="891.2" width="22.57" height="22.1" fill="#c6c6c6"/>
<rect x="1037.04" y="891.2" width="44.65" height="22.1" fill="#e8e8e8"/>
<rect x="1081.18" y="891.2" width="66.72" height="22.1" fill="#d0e8fa"/>
<rect x="1147.41" y="891.2" width="37.29" height="22.1" fill="#e8e8e8"/>
<rect x="1184.2" y="891.2" width="7.86" height="22.1" fill="#d0e8fa"/>
<rect x="1191.55" y="891.2" width="44.65" height="22.1" fill="#e8e8e8"/>
<rect x="1235.7" y="891.2" width="15.22" height="22.1" fill="#d0e8fa"/>
<rect x="1250.42" y="891.2" width="29.93" height="22.1" fill="#e8e8e8"/>
<rect x="1279.85" y="891.2" width="44.65" height="22.1" fill="#d0e8fa"/>
<rect x="1324" y="891.2" width="7.86" height="22.1" fill="#e8e8e8"/>
<rect x="1331.36" y="891.2" width="15.22" height="22.1" fill="#d0e8fa"/>
<rect x="1346.07" y="891.2" width="7.86" height="22.1" fill="#e8e8e8"/>
<rect x="1353.43" y="891.2" width="7.86" height="22.1" fill="#d0e8fa"/>
<rect x="1360.79" y="891.2" width="7.86" height="22.1" fill="#80bdf0"/>
<rect x="1368.15" y="891.2" width="7.86" height="22.1" fill="#e8e8e8"/>
<rect x="1375.5" y="891.2" width="41.85" height="22.1" fill="#80bdf0"/>
<rect x="77.7" y="912.8" width="1339.16" height="106.3" fill="#b4d7f7"/>
<rect x="77.7" y="914.3" width="78.58" height="104.8" fill="#999999"/>
<rect x="154.08" y="927.4" width="9.57" height="91.7" fill="#999999"/>
<rect x="161.43" y="914.3" width="61.07" height="104.8" fill="#999999"/>
<rect x="220.3" y="927.4" width="9.57" height="91.7" fill="#999999"/>
<rect x="227.66" y="914.3" width="31.64" height="104.8" fill="#999999"/>
<rect x="257.09" y="927.4" width="9.57" height="91.7" fill="#999999"/>
<rect x="264.45" y="914.3" width="392.18" height="104.8" fill="#999999"/>
<rect x="654.42" y="927.4" width="68.43" height="91.7" fill="#999999"/>
<rect x="720.64" y="940.5" width="24.28" height="78.6" fill="#999999"/>
<rect x="742.72" y="953.6" width="31.64" height="65.5" fill="#999999"/>
<rect x="772.15" y="940.5" width="39" height="78.6" fill="#999999"/>
<rect x="808.94" y="927.4" width="46.36" height="91.7" fill="#999999"/>
<rect x="853.09" y="940.5" width="16.92" height="78.6" fill="#999999"/>
<rect x="867.8" y="953.6" width="24.28" height="65.5" fill="#999999"/>
<rect x="889.88" y="940.5" width="31.64" height="78.6" fill="#999999"/>
<rect x="919.31" y="953.6" width="46.36" height="65.5" fill="#999999"/>
<rect x="963.46" y="940.5" width="90.5" height="78.6" fill="#999999"/>
<rect x="1051.75" y="953.6" width="61.07" height="65.5" fill="#999999"/>
<rect x="1110.62" y="966.7" width="16.92" height="52.4" fill="#999999"/>
<rect x="1125.33" y="953.6" width="39" height="65.5" fill="#999999"/>
<rect x="1162.12" y="940.5" width="46.36" height="78.6" fill="#999999"/>
<rect x="1206.27" y="953.6" width="83.15" height="65.5" fill="#999999"/>
<rect x="1287.21" y="966.7" width="31.64" height="52.4" fill="#999999"/>
<rect x="1316.64" y="953.6" width="83.15" height="65.5" fill="#999999"/>
<rect x="1397.58" y="966.7" width="19.28" height="52.4" fill="#999999"/>
</g>
<path d="M180.71 912.8V1019.1M357.3 912.8V1019.1M533.9 912.8V1019.1M710.49 912.8V1019.1M887.08 912.8V1019.1M1063.67 912.8V1019.1M1240.26 912.8V1019.1" stroke="#1c1c1c" stroke-width="2" fill="none"/>
<path d="M92.42 912.8V1019.1M136.56 912.8V1019.1M224.86 912.8V1019.1M269.01 912.8V1019.1M313.16 912.8V1019.1M401.45 912.8V1019.1M445.6 912.8V1019.1M489.75 912.8V1019.1M578.04 912.8V1019.1M622.19 912.8V1019.1M666.34 912.8V1019.1M754.64 912.8V1019.1M798.78 912.8V1019.1M842.93 912.8V1019.1M931.23 912.8V1019.1M975.38 912.8V1019.1M1019.52 912.8V1019.1M1107.82 912.8V1019.1M1151.97 912.8V1019.1M1196.12 912.8V1019.1M1284.41 912.8V1019.1M1328.56 912.8V1019.1M1372.71 912.8V1019.1M77.7 1006H1416.86M77.7 992.9H1416.86M77.7 979.8H1416.86M77.7 966.7H1416.86M77.7 953.6H1416.86M77.7 940.5H1416.86M77.7 927.4H1416.86" stroke="#bebebe" stroke-width="1.1" fill="none" opacity="0.9"/>
<g clip-path="url(#c6)">
<path d="M88.74 915.3 L140.24 915.3 L140.24 927.4 L177.03 927.4 L177.03 915.3 L221.18 915.3 L221.18 927.4 L250.61 927.4 L250.61 940.5 L272.69 940.5 L272.69 927.4 L309.48 927.4 L309.48 915.3 L544.93 915.3 L544.93 927.4 L618.51 927.4 L618.51 940.5 L625.87 940.5 L625.87 927.4 L640.59 927.4 L640.59 940.5 L647.95 940.5 L647.95 927.4 L655.3 927.4 L655.3 940.5 L714.17 940.5 L714.17 953.6 L824.54 953.6 L824.54 940.5 L831.89 940.5 L831.89 953.6 L868.69 953.6 L868.69 966.7 L890.76 966.7 L890.76 953.6 L1023.2 953.6 L1023.2 940.5 L1045.28 940.5 L1045.28 953.6 L1111.5 953.6 L1111.5 966.7 L1155.65 966.7 L1155.65 953.6 L1192.44 953.6 L1192.44 966.7 L1199.8 966.7 L1199.8 953.6 L1243.94 953.6 L1243.94 966.7 L1251.3 966.7 L1251.3 953.6 L1288.09 953.6 L1288.09 966.7 L1332.24 966.7 L1332.24 953.6 L1339.6 953.6 L1339.6 966.7 L1354.31 966.7 L1354.31 953.6 L1361.67 953.6 L1361.67 966.7 L1376.39 966.7 L1376.39 953.6 L1383.74 953.6 L1383.74 966.7 L1416.86 966.7" fill="none" stroke="#0000ff" stroke-width="2" stroke-linejoin="miter"/>
</g>
<path d="M77.7 912.8H1416.86" stroke="#111" stroke-width="2.2"/>
<text x="92.42" y="864.9" font-size="12" fill="#3a3a3a" text-anchor="middle">5</text>
<text x="114.49" y="864.9" font-size="12" fill="#3a3a3a" text-anchor="middle">5</text>
<text x="136.56" y="864.9" font-size="12" fill="#3a3a3a" text-anchor="middle">4</text>
<text x="158.64" y="864.9" font-size="12" fill="#3a3a3a" text-anchor="middle">3</text>
<text x="180.71" y="864.9" font-size="12" fill="#3a3a3a" text-anchor="middle">2</text>
<text x="202.79" y="864.9" font-size="12" fill="#3a3a3a" text-anchor="middle">4</text>
<text x="224.86" y="864.9" font-size="12" fill="#3a3a3a" text-anchor="middle">2</text>
<text x="246.93" y="864.9" font-size="12" fill="#3a3a3a" text-anchor="middle">4</text>
<text x="269.01" y="864.9" font-size="12" fill="#3a3a3a" text-anchor="middle">2</text>
<text x="291.08" y="864.9" font-size="12" fill="#3a3a3a" text-anchor="middle">8</text>
<text x="313.16" y="864.9" font-size="12" fill="#3a3a3a" text-anchor="middle">8</text>
<text x="335.23" y="864.9" font-size="12" fill="#3a3a3a" text-anchor="middle">8</text>
<text x="357.3" y="864.9" font-size="12" fill="#3a3a3a" text-anchor="middle">8</text>
<text x="379.38" y="864.9" font-size="12" fill="#3a3a3a" text-anchor="middle">8</text>
<text x="401.45" y="864.9" font-size="12" fill="#3a3a3a" text-anchor="middle">8</text>
<text x="423.53" y="864.9" font-size="12" fill="#3a3a3a" text-anchor="middle">4</text>
<text x="445.6" y="864.9" font-size="12" fill="#3a3a3a" text-anchor="middle">5</text>
<text x="467.67" y="864.9" font-size="12" fill="#3a3a3a" text-anchor="middle">5</text>
<text x="489.75" y="864.9" font-size="12" fill="#3a3a3a" text-anchor="middle">4</text>
<text x="511.82" y="864.9" font-size="12" fill="#3a3a3a" text-anchor="middle">2</text>
<text x="533.9" y="864.9" font-size="12" fill="#3a3a3a" text-anchor="middle">4</text>
<text x="555.97" y="864.9" font-size="12" fill="#3a3a3a" text-anchor="middle">4</text>
<text x="578.04" y="864.9" font-size="12" fill="#3a3a3a" text-anchor="middle">4</text>
<text x="600.12" y="864.9" font-size="12" fill="#3a3a3a" text-anchor="middle">5</text>
<text x="622.19" y="864.9" font-size="12" fill="#3a3a3a" text-anchor="middle">5</text>
<text x="644.27" y="864.9" font-size="12" fill="#3a3a3a" text-anchor="middle">5</text>
<text x="666.34" y="864.9" font-size="12" fill="#3a3a3a" text-anchor="middle">5</text>
<text x="688.41" y="864.9" font-size="12" fill="#3a3a3a" text-anchor="middle">5</text>
<text x="710.49" y="864.9" font-size="12" fill="#3a3a3a" text-anchor="middle">4</text>
<text x="732.56" y="864.9" font-size="12" fill="#3a3a3a" text-anchor="middle">2</text>
<text x="754.64" y="864.9" font-size="12" fill="#3a3a3a" text-anchor="middle">0</text>
<text x="776.71" y="864.9" font-size="12" fill="#3a3a3a" text-anchor="middle">1</text>
<text x="798.78" y="864.9" font-size="12" fill="#3a3a3a" text-anchor="middle">2</text>
<text x="820.86" y="864.9" font-size="12" fill="#3a3a3a" text-anchor="middle">4</text>
<text x="842.93" y="864.9" font-size="12" fill="#3a3a3a" text-anchor="middle">4</text>
<text x="865.01" y="864.9" font-size="12" fill="#3a3a3a" text-anchor="middle">1</text>
<text x="887.08" y="864.9" font-size="12" fill="#3a3a3a" text-anchor="middle">0</text>
<text x="909.15" y="864.9" font-size="12" fill="#3a3a3a" text-anchor="middle">0</text>
<text x="931.23" y="864.9" font-size="12" fill="#3a3a3a" text-anchor="middle">1</text>
<text x="953.3" y="864.9" font-size="12" fill="#3a3a3a" text-anchor="middle">0</text>
<text x="975.38" y="864.9" font-size="12" fill="#3a3a3a" text-anchor="middle">0</text>
<text x="997.45" y="864.9" font-size="12" fill="#3a3a3a" text-anchor="middle">0</text>
<text x="1019.52" y="864.9" font-size="12" fill="#3a3a3a" text-anchor="middle">0</text>
<text x="1041.6" y="864.9" font-size="12" fill="#3a3a3a" text-anchor="middle">0</text>
<text x="1063.67" y="864.9" font-size="12" fill="#3a3a3a" text-anchor="middle">0</text>
<text x="1085.75" y="864.9" font-size="12" fill="#3a3a3a" text-anchor="middle">1</text>
<text x="1107.82" y="864.9" font-size="12" fill="#3a3a3a" text-anchor="middle">0</text>
<text x="1129.89" y="864.9" font-size="12" fill="#3a3a3a" text-anchor="middle">0</text>
<text x="1151.97" y="864.9" font-size="12" fill="#3a3a3a" text-anchor="middle">0</text>
<text x="1174.04" y="864.9" font-size="12" fill="#3a3a3a" text-anchor="middle">0</text>
<text x="1196.12" y="864.9" font-size="12" fill="#3a3a3a" text-anchor="middle">0</text>
<text x="1218.19" y="864.9" font-size="12" fill="#3a3a3a" text-anchor="middle">0</text>
<text x="1240.26" y="864.9" font-size="12" fill="#3a3a3a" text-anchor="middle">0</text>
<text x="1262.34" y="864.9" font-size="12" fill="#3a3a3a" text-anchor="middle">0</text>
<text x="1284.41" y="864.9" font-size="12" fill="#3a3a3a" text-anchor="middle">0</text>
<text x="1306.49" y="864.9" font-size="12" fill="#3a3a3a" text-anchor="middle">0</text>
<text x="1328.56" y="864.9" font-size="12" fill="#3a3a3a" text-anchor="middle">0</text>
<text x="1350.63" y="864.9" font-size="12" fill="#3a3a3a" text-anchor="middle">1</text>
<text x="1372.71" y="864.9" font-size="12" fill="#3a3a3a" text-anchor="middle">1</text>
<text x="1394.78" y="864.9" font-size="12" fill="#3a3a3a" text-anchor="middle">0</text>
<text x="92.42" y="886.2" font-size="12" fill="#3a3a3a" text-anchor="middle">7</text>
<text x="114.49" y="886.2" font-size="12" fill="#3a3a3a" text-anchor="middle">4</text>
<text x="136.56" y="886.2" font-size="12" fill="#3a3a3a" text-anchor="middle">3</text>
<text x="158.64" y="886.2" font-size="12" fill="#3a3a3a" text-anchor="middle">3</text>
<text x="180.71" y="886.2" font-size="12" fill="#3a3a3a" text-anchor="middle">4</text>
<text x="202.79" y="886.2" font-size="12" fill="#3a3a3a" text-anchor="middle">5</text>
<text x="224.86" y="886.2" font-size="12" fill="#3a3a3a" text-anchor="middle">3</text>
<text x="246.93" y="886.2" font-size="12" fill="#3a3a3a" text-anchor="middle">5</text>
<text x="269.01" y="886.2" font-size="12" fill="#3a3a3a" text-anchor="middle">3</text>
<text x="291.08" y="886.2" font-size="12" fill="#3a3a3a" text-anchor="middle">7</text>
<text x="313.16" y="886.2" font-size="12" fill="#3a3a3a" text-anchor="middle">8</text>
<text x="335.23" y="886.2" font-size="12" fill="#3a3a3a" text-anchor="middle">8</text>
<text x="357.3" y="886.2" font-size="12" fill="#3a3a3a" text-anchor="middle">8</text>
<text x="379.38" y="886.2" font-size="12" fill="#3a3a3a" text-anchor="middle">8</text>
<text x="401.45" y="886.2" font-size="12" fill="#3a3a3a" text-anchor="middle">8</text>
<text x="423.53" y="886.2" font-size="12" fill="#3a3a3a" text-anchor="middle">8</text>
<text x="445.6" y="886.2" font-size="12" fill="#3a3a3a" text-anchor="middle">6</text>
<text x="467.67" y="886.2" font-size="12" fill="#3a3a3a" text-anchor="middle">8</text>
<text x="489.75" y="886.2" font-size="12" fill="#3a3a3a" text-anchor="middle">8</text>
<text x="511.82" y="886.2" font-size="12" fill="#3a3a3a" text-anchor="middle">7</text>
<text x="533.9" y="886.2" font-size="12" fill="#3a3a3a" text-anchor="middle">4</text>
<text x="555.97" y="886.2" font-size="12" fill="#3a3a3a" text-anchor="middle">4</text>
<text x="578.04" y="886.2" font-size="12" fill="#3a3a3a" text-anchor="middle">4</text>
<text x="600.12" y="886.2" font-size="12" fill="#3a3a3a" text-anchor="middle">4</text>
<text x="622.19" y="886.2" font-size="12" fill="#3a3a3a" text-anchor="middle">3</text>
<text x="644.27" y="886.2" font-size="12" fill="#3a3a3a" text-anchor="middle">3</text>
<text x="666.34" y="886.2" font-size="12" fill="#3a3a3a" text-anchor="middle">2</text>
<text x="688.41" y="886.2" font-size="12" fill="#3a3a3a" text-anchor="middle">3</text>
<text x="710.49" y="886.2" font-size="12" fill="#3a3a3a" text-anchor="middle">2</text>
<text x="732.56" y="886.2" font-size="12" fill="#3a3a3a" text-anchor="middle">0</text>
<text x="754.64" y="886.2" font-size="12" fill="#3a3a3a" text-anchor="middle">0</text>
<text x="776.71" y="886.2" font-size="12" fill="#3a3a3a" text-anchor="middle">0</text>
<text x="798.78" y="886.2" font-size="12" fill="#3a3a3a" text-anchor="middle">1</text>
<text x="820.86" y="886.2" font-size="12" fill="#3a3a3a" text-anchor="middle">1</text>
<text x="842.93" y="886.2" font-size="12" fill="#3a3a3a" text-anchor="middle">1</text>
<text x="865.01" y="886.2" font-size="12" fill="#3a3a3a" text-anchor="middle">1</text>
<text x="887.08" y="886.2" font-size="12" fill="#3a3a3a" text-anchor="middle">2</text>
<text x="909.15" y="886.2" font-size="12" fill="#3a3a3a" text-anchor="middle">2</text>
<text x="931.23" y="886.2" font-size="12" fill="#3a3a3a" text-anchor="middle">1</text>
<text x="953.3" y="886.2" font-size="12" fill="#3a3a3a" text-anchor="middle">1</text>
<text x="975.38" y="886.2" font-size="12" fill="#3a3a3a" text-anchor="middle">1</text>
<text x="997.45" y="886.2" font-size="12" fill="#3a3a3a" text-anchor="middle">1</text>
<text x="1019.52" y="886.2" font-size="12" fill="#3a3a3a" text-anchor="middle">1</text>
<text x="1041.6" y="886.2" font-size="12" fill="#3a3a3a" text-anchor="middle">0</text>
<text x="1063.67" y="886.2" font-size="12" fill="#3a3a3a" text-anchor="middle">0</text>
<text x="1085.75" y="886.2" font-size="12" fill="#3a3a3a" text-anchor="middle">1</text>
<text x="1107.82" y="886.2" font-size="12" fill="#3a3a3a" text-anchor="middle">0</text>
<text x="1129.89" y="886.2" font-size="12" fill="#3a3a3a" text-anchor="middle">0</text>
<text x="1151.97" y="886.2" font-size="12" fill="#3a3a3a" text-anchor="middle">1</text>
<text x="1174.04" y="886.2" font-size="12" fill="#3a3a3a" text-anchor="middle">1</text>
<text x="1196.12" y="886.2" font-size="12" fill="#3a3a3a" text-anchor="middle">1</text>
<text x="1218.19" y="886.2" font-size="12" fill="#3a3a3a" text-anchor="middle">0</text>
<text x="1240.26" y="886.2" font-size="12" fill="#3a3a3a" text-anchor="middle">0</text>
<text x="1262.34" y="886.2" font-size="12" fill="#3a3a3a" text-anchor="middle">0</text>
<text x="1284.41" y="886.2" font-size="12" fill="#3a3a3a" text-anchor="middle">0</text>
<text x="1306.49" y="886.2" font-size="12" fill="#3a3a3a" text-anchor="middle">0</text>
<text x="1328.56" y="886.2" font-size="12" fill="#3a3a3a" text-anchor="middle">0</text>
<text x="1350.63" y="886.2" font-size="12" fill="#3a3a3a" text-anchor="middle">1</text>
<text x="1372.71" y="886.2" font-size="12" fill="#3a3a3a" text-anchor="middle">1</text>
<text x="1394.78" y="886.2" font-size="12" fill="#3a3a3a" text-anchor="middle">2</text>
<text x="92.42" y="906.5" font-size="12" fill="#3a3a3a" text-anchor="middle">8</text>
<text x="114.49" y="906.5" font-size="12" fill="#3a3a3a" text-anchor="middle">8</text>
<text x="136.56" y="906.5" font-size="12" fill="#3a3a3a" text-anchor="middle">7</text>
<text x="158.64" y="906.5" font-size="12" fill="#3a3a3a" text-anchor="middle">6</text>
<text x="180.71" y="906.5" font-size="12" fill="#3a3a3a" text-anchor="middle">7</text>
<text x="202.79" y="906.5" font-size="12" fill="#3a3a3a" text-anchor="middle">6</text>
<text x="224.86" y="906.5" font-size="12" fill="#3a3a3a" text-anchor="middle">6</text>
<text x="246.93" y="906.5" font-size="12" fill="#3a3a3a" text-anchor="middle">6</text>
<text x="269.01" y="906.5" font-size="12" fill="#3a3a3a" text-anchor="middle">6</text>
<text x="291.08" y="906.5" font-size="12" fill="#3a3a3a" text-anchor="middle">7</text>
<text x="313.16" y="906.5" font-size="12" fill="#3a3a3a" text-anchor="middle">7</text>
<text x="335.23" y="906.5" font-size="12" fill="#3a3a3a" text-anchor="middle">7</text>
<text x="357.3" y="906.5" font-size="12" fill="#3a3a3a" text-anchor="middle">7</text>
<text x="379.38" y="906.5" font-size="12" fill="#3a3a3a" text-anchor="middle">7</text>
<text x="401.45" y="906.5" font-size="12" fill="#3a3a3a" text-anchor="middle">8</text>
<text x="423.53" y="906.5" font-size="12" fill="#3a3a3a" text-anchor="middle">7</text>
<text x="445.6" y="906.5" font-size="12" fill="#3a3a3a" text-anchor="middle">8</text>
<text x="467.67" y="906.5" font-size="12" fill="#3a3a3a" text-anchor="middle">7</text>
<text x="489.75" y="906.5" font-size="12" fill="#3a3a3a" text-anchor="middle">8</text>
<text x="511.82" y="906.5" font-size="12" fill="#3a3a3a" text-anchor="middle">7</text>
<text x="533.9" y="906.5" font-size="12" fill="#3a3a3a" text-anchor="middle">7</text>
<text x="555.97" y="906.5" font-size="12" fill="#3a3a3a" text-anchor="middle">7</text>
<text x="578.04" y="906.5" font-size="12" fill="#3a3a3a" text-anchor="middle">6</text>
<text x="600.12" y="906.5" font-size="12" fill="#3a3a3a" text-anchor="middle">7</text>
<text x="622.19" y="906.5" font-size="12" fill="#3a3a3a" text-anchor="middle">6</text>
<text x="644.27" y="906.5" font-size="12" fill="#3a3a3a" text-anchor="middle">7</text>
<text x="666.34" y="906.5" font-size="12" fill="#3a3a3a" text-anchor="middle">6</text>
<text x="688.41" y="906.5" font-size="12" fill="#3a3a3a" text-anchor="middle">5</text>
<text x="710.49" y="906.5" font-size="12" fill="#3a3a3a" text-anchor="middle">5</text>
<text x="732.56" y="906.5" font-size="12" fill="#3a3a3a" text-anchor="middle">5</text>
<text x="754.64" y="906.5" font-size="12" fill="#3a3a3a" text-anchor="middle">5</text>
<text x="776.71" y="906.5" font-size="12" fill="#3a3a3a" text-anchor="middle">5</text>
<text x="798.78" y="906.5" font-size="12" fill="#3a3a3a" text-anchor="middle">5</text>
<text x="820.86" y="906.5" font-size="12" fill="#3a3a3a" text-anchor="middle">6</text>
<text x="842.93" y="906.5" font-size="12" fill="#3a3a3a" text-anchor="middle">5</text>
<text x="865.01" y="906.5" font-size="12" fill="#3a3a3a" text-anchor="middle">4</text>
<text x="887.08" y="906.5" font-size="12" fill="#3a3a3a" text-anchor="middle">5</text>
<text x="909.15" y="906.5" font-size="12" fill="#3a3a3a" text-anchor="middle">5</text>
<text x="931.23" y="906.5" font-size="12" fill="#3a3a3a" text-anchor="middle">5</text>
<text x="953.3" y="906.5" font-size="12" fill="#3a3a3a" text-anchor="middle">5</text>
<text x="975.38" y="906.5" font-size="12" fill="#3a3a3a" text-anchor="middle">5</text>
<text x="997.45" y="906.5" font-size="12" fill="#3a3a3a" text-anchor="middle">5</text>
<text x="1019.52" y="906.5" font-size="12" fill="#3a3a3a" text-anchor="middle">6</text>
<text x="1041.6" y="906.5" font-size="12" fill="#3a3a3a" text-anchor="middle">5</text>
<text x="1063.67" y="906.5" font-size="12" fill="#3a3a3a" text-anchor="middle">5</text>
<text x="1085.75" y="906.5" font-size="12" fill="#3a3a3a" text-anchor="middle">4</text>
<text x="1107.82" y="906.5" font-size="12" fill="#3a3a3a" text-anchor="middle">4</text>
<text x="1129.89" y="906.5" font-size="12" fill="#3a3a3a" text-anchor="middle">4</text>
<text x="1151.97" y="906.5" font-size="12" fill="#3a3a3a" text-anchor="middle">5</text>
<text x="1174.04" y="906.5" font-size="12" fill="#3a3a3a" text-anchor="middle">5</text>
<text x="1196.12" y="906.5" font-size="12" fill="#3a3a3a" text-anchor="middle">5</text>
<text x="1218.19" y="906.5" font-size="12" fill="#3a3a3a" text-anchor="middle">5</text>
<text x="1240.26" y="906.5" font-size="12" fill="#3a3a3a" text-anchor="middle">4</text>
<text x="1262.34" y="906.5" font-size="12" fill="#3a3a3a" text-anchor="middle">5</text>
<text x="1284.41" y="906.5" font-size="12" fill="#3a3a3a" text-anchor="middle">4</text>
<text x="1306.49" y="906.5" font-size="12" fill="#3a3a3a" text-anchor="middle">4</text>
<text x="1328.56" y="906.5" font-size="12" fill="#3a3a3a" text-anchor="middle">5</text>
<text x="1350.63" y="906.5" font-size="12" fill="#3a3a3a" text-anchor="middle">5</text>
<text x="1372.71" y="906.5" font-size="12" fill="#3a3a3a" text-anchor="middle">5</text>
<text x="1394.78" y="906.5" font-size="12" fill="#3a3a3a" text-anchor="middle">3</text>
<text x="1424.5" y="864.6" font-size="12" fill="#000">hoch</text>
<text x="1424.5" y="885.9" font-size="12" fill="#000">mittel</text>
<text x="1424.5" y="906.2" font-size="12" fill="#000">tief</text>
<text x="99.5" y="1016.5" font-size="13.33" fill="#0000ff">- effektive Bewölkung</text>
<path d="M77.7 912.8V1019.1H1416.86V912.8" fill="none" stroke="#000" stroke-width="1.5"/>
<path d="M77.7 912.8V848.6" fill="none" stroke="#555" stroke-width="1.2"/>
<path d="M77.7 848.6H1416.86V912.8" fill="none" stroke="#9a9a9a" stroke-width="0.9"/>
<text x="92.42" y="1034.4" font-size="13.33" fill="#000" text-anchor="middle">12</text>
<text x="136.56" y="1034.4" font-size="13.33" fill="#000" text-anchor="middle">18</text>
<text x="180.71" y="1034.4" font-size="13.33" fill="#000" text-anchor="middle">0</text>
<text x="224.86" y="1034.4" font-size="13.33" fill="#000" text-anchor="middle">6</text>
<text x="269.01" y="1034.4" font-size="13.33" fill="#000" text-anchor="middle">12</text>
<text x="313.16" y="1034.4" font-size="13.33" fill="#000" text-anchor="middle">18</text>
<text x="357.3" y="1034.4" font-size="13.33" fill="#000" text-anchor="middle">0</text>
<text x="401.45" y="1034.4" font-size="13.33" fill="#000" text-anchor="middle">6</text>
<text x="445.6" y="1034.4" font-size="13.33" fill="#000" text-anchor="middle">12</text>
<text x="489.75" y="1034.4" font-size="13.33" fill="#000" text-anchor="middle">18</text>
<text x="533.9" y="1034.4" font-size="13.33" fill="#000" text-anchor="middle">0</text>
<text x="578.04" y="1034.4" font-size="13.33" fill="#000" text-anchor="middle">6</text>
<text x="622.19" y="1034.4" font-size="13.33" fill="#000" text-anchor="middle">12</text>
<text x="666.34" y="1034.4" font-size="13.33" fill="#000" text-anchor="middle">18</text>
<text x="710.49" y="1034.4" font-size="13.33" fill="#000" text-anchor="middle">0</text>
<text x="754.64" y="1034.4" font-size="13.33" fill="#000" text-anchor="middle">6</text>
<text x="798.78" y="1034.4" font-size="13.33" fill="#000" text-anchor="middle">12</text>
<text x="842.93" y="1034.4" font-size="13.33" fill="#000" text-anchor="middle">18</text>
<text x="887.08" y="1034.4" font-size="13.33" fill="#000" text-anchor="middle">0</text>
<text x="931.23" y="1034.4" font-size="13.33" fill="#000" text-anchor="middle">6</text>
<text x="975.38" y="1034.4" font-size="13.33" fill="#000" text-anchor="middle">12</text>
<text x="1019.52" y="1034.4" font-size="13.33" fill="#000" text-anchor="middle">18</text>
<text x="1063.67" y="1034.4" font-size="13.33" fill="#000" text-anchor="middle">0</text>
<text x="1107.82" y="1034.4" font-size="13.33" fill="#000" text-anchor="middle">6</text>
<text x="1151.97" y="1034.4" font-size="13.33" fill="#000" text-anchor="middle">12</text>
<text x="1196.12" y="1034.4" font-size="13.33" fill="#000" text-anchor="middle">18</text>
<text x="1240.26" y="1034.4" font-size="13.33" fill="#000" text-anchor="middle">0</text>
<text x="1284.41" y="1034.4" font-size="13.33" fill="#000" text-anchor="middle">6</text>
<text x="1328.56" y="1034.4" font-size="13.33" fill="#000" text-anchor="middle">12</text>
<text x="1372.71" y="1034.4" font-size="13.33" fill="#000" text-anchor="middle">18</text>
<text x="1416.86" y="1034.4" font-size="13.33" fill="#000" text-anchor="middle">0</text>
<text x="72.7" y="1023.95" font-size="13.33" fill="#000" text-anchor="end">0</text>
<text x="72.7" y="1010.85" font-size="13.33" fill="#000" text-anchor="end">1</text>
<text x="72.7" y="997.75" font-size="13.33" fill="#000" text-anchor="end">2</text>
<text x="72.7" y="984.65" font-size="13.33" fill="#000" text-anchor="end">3</text>
<text x="72.7" y="971.55" font-size="13.33" fill="#000" text-anchor="end">4</text>
<text x="72.7" y="958.45" font-size="13.33" fill="#000" text-anchor="end">5</text>
<text x="72.7" y="945.35" font-size="13.33" fill="#000" text-anchor="end">6</text>
<text x="72.7" y="932.25" font-size="13.33" fill="#000" text-anchor="end">7</text>
<text x="72.7" y="919.15" font-size="13.33" fill="#000" text-anchor="end">8</text>
<text x="22.1" y="933.85" font-size="16" fill="#000" text-anchor="middle" transform="rotate(-90 22.1 933.85)">Bedeckungsgrad</text>
<text x="39.8" y="933.85" font-size="16" fill="#000" text-anchor="middle" transform="rotate(-90 39.8 933.85)">(Okta)</text>
</svg>
</body></html>
